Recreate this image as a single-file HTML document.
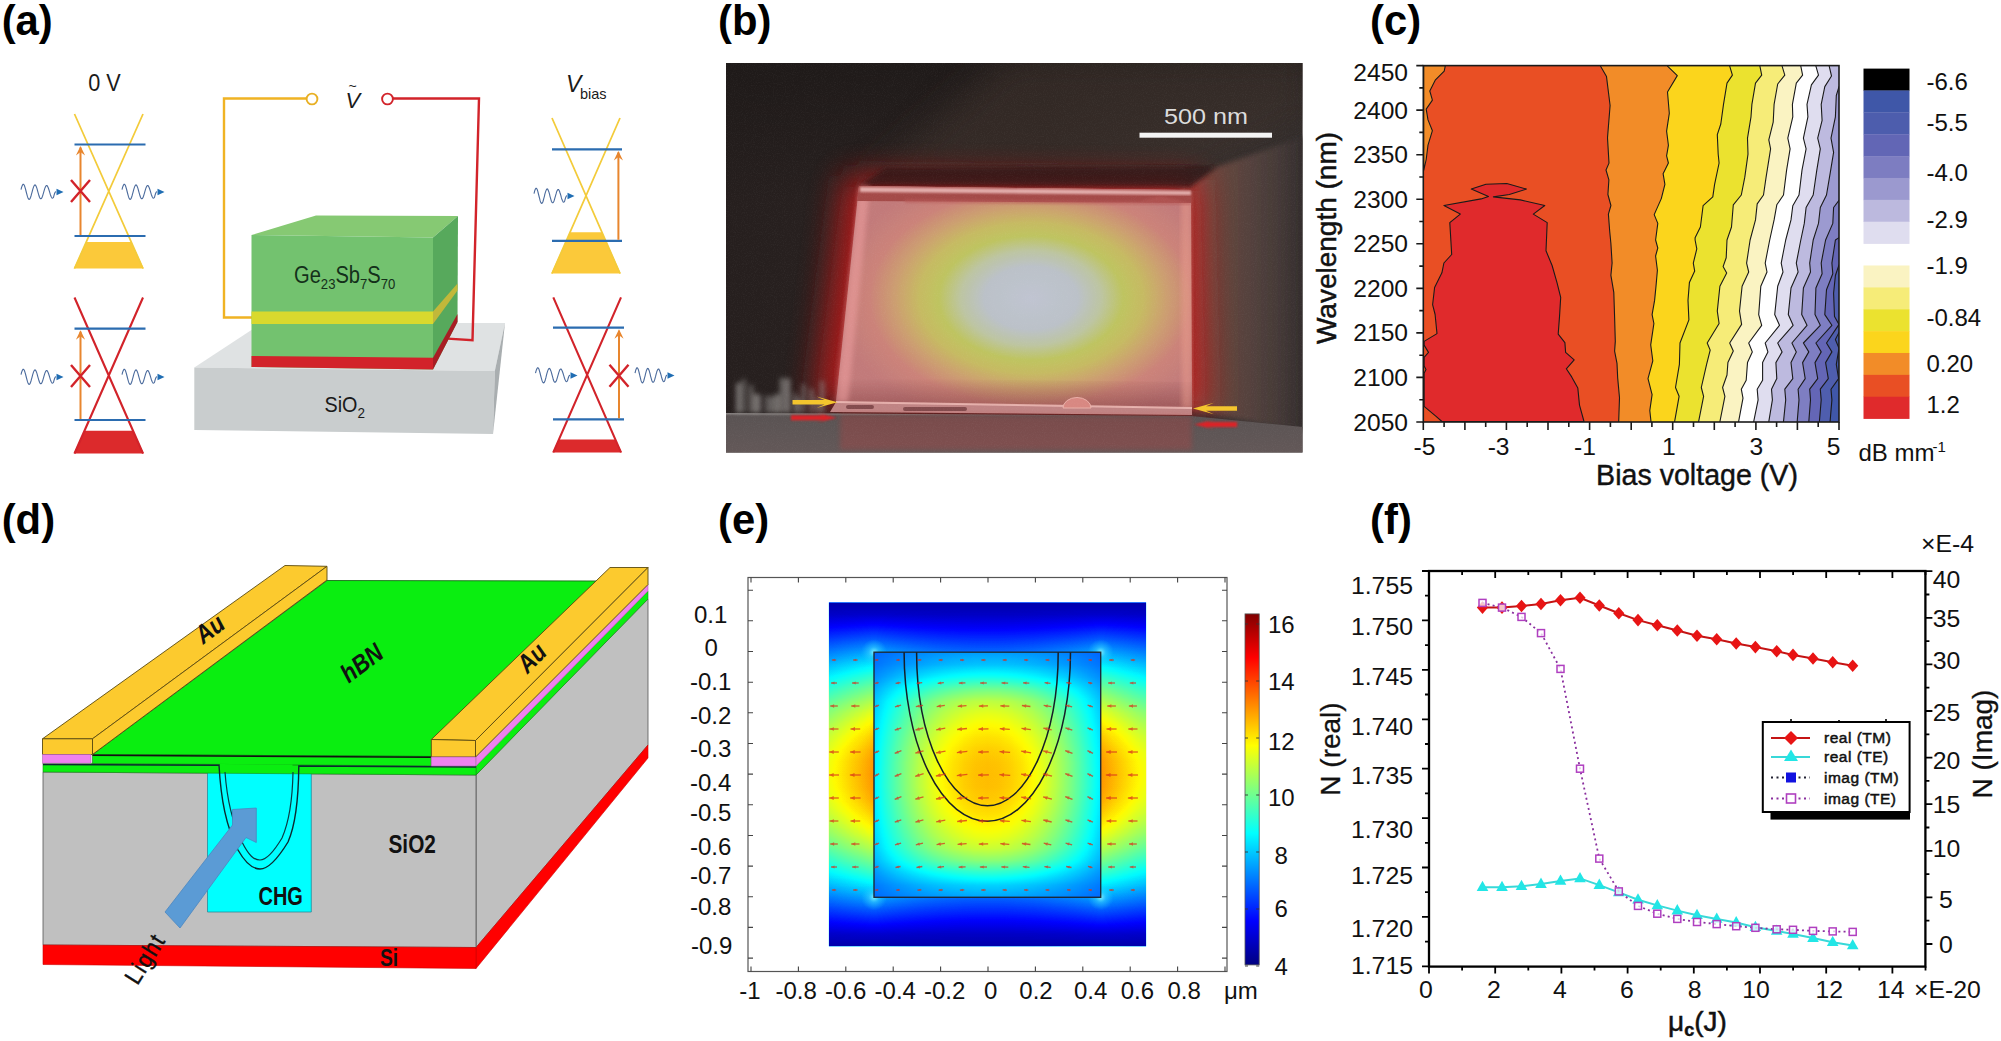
<!DOCTYPE html>
<html lang="en"><head><meta charset="utf-8"><title>Figure</title>
<style>
html,body{margin:0;padding:0;background:#fff;}
body{width:2001px;height:1041px;overflow:hidden;font-family:"Liberation Sans",sans-serif;}
svg{display:block;}
svg text{font-family:"Liberation Sans",sans-serif;}
.lbl{font-weight:700;font-size:41.8px;fill:#000;}
</style></head><body>
<svg width="2001" height="1041" viewBox="0 0 2001 1041">
<rect width="2001" height="1041" fill="#fff"/>
<g class="lbl">
<text x="1.7" y="35.3">(a)</text><text x="718.1" y="35.3">(b)</text><text x="1370.1" y="35.3">(c)</text>
<text x="1.7" y="534.3">(d)</text><text x="718.1" y="534.3">(e)</text><text x="1370.1" y="534.3">(f)</text>
</g>
<!-- panel a -->
<g id="pa"><polygon points="86.2,242.0 131.3,242.0 143.8,268.5 73.7,268.5" fill="#fbc93a"/><path d="M74.5 114.0 L143.0 268.5 M143.0 114.0 L74.5 268.5" stroke="#f3cb3a" stroke-width="1.75" fill="none"/><path d="M74.5 144.5 H145.5 M74.5 236.0 H145.5" stroke="#2b6cb0" stroke-width="2.2" fill="none"/><path d="M80.5 235.0 V147.5" stroke="#e8862e" stroke-width="2" fill="none"/><polygon points="75.9,155.5 80.5,146.0 85.1,155.5 80.5,152.0" fill="#e8862e"/><path d="M71.0 180.0 L90.0 202.0 M90.0 180.0 L71.0 202.0" stroke="#d2232a" stroke-width="2.4" fill="none"/><polyline points="21.0,189.6 21.5,187.7 22.0,186.2 22.5,185.0 23.0,184.4 23.5,184.4 24.0,184.8 24.5,185.8 25.0,187.3 25.5,189.0 26.0,191.0 26.5,193.0 27.0,194.9 27.5,196.7 28.0,198.0 28.5,198.9 29.0,199.4 29.5,199.2 30.0,198.6 30.5,197.5 31.0,196.0 31.5,194.2 32.0,192.3 32.5,190.4 33.0,188.6 33.5,187.1 34.0,185.9 34.5,185.2 35.0,184.9 35.5,185.2 36.0,186.0 36.5,187.2 37.0,188.7 37.5,190.5 38.0,192.3 38.5,194.1 39.0,195.8 39.5,197.2 40.0,198.1 40.5,198.7 41.0,198.7 41.5,198.3 42.0,197.4 42.5,196.2 43.0,194.6 43.5,192.9 44.0,191.1 44.5,189.4 45.0,187.9 45.5,186.7 46.0,185.9 46.5,185.5 47.0,185.6 47.5,186.2 48.0,187.2 48.5,188.5 49.0,190.0 49.5,191.7 50.0,193.4 50.5,195.0 51.0,196.3 51.5,197.3 52.0,198.0 52.5,198.2 53.0,197.9 53.5,197.3 54.0,195.4 54.5,193.8 55.0,192.5 55.5,191.9 56.0,192.0" fill="none" stroke="#4a6a9c" stroke-width="1.1"/><polygon points="56.5,188.8 63.5,192.0 56.5,195.2" fill="#1f6db3"/><polyline points="122.0,189.6 122.5,187.7 123.0,186.2 123.5,185.0 124.0,184.4 124.5,184.4 125.0,184.8 125.5,185.8 126.0,187.3 126.5,189.0 127.0,191.0 127.5,193.0 128.0,194.9 128.5,196.7 129.0,198.0 129.5,198.9 130.0,199.4 130.5,199.2 131.0,198.6 131.5,197.5 132.0,196.0 132.5,194.2 133.0,192.3 133.5,190.4 134.0,188.6 134.5,187.1 135.0,185.9 135.5,185.2 136.0,184.9 136.5,185.2 137.0,186.0 137.5,187.2 138.0,188.7 138.5,190.5 139.0,192.3 139.5,194.1 140.0,195.8 140.5,197.2 141.0,198.1 141.5,198.7 142.0,198.7 142.5,198.3 143.0,197.4 143.5,196.2 144.0,194.6 144.5,192.9 145.0,191.1 145.5,189.4 146.0,187.9 146.5,186.7 147.0,185.9 147.5,185.5 148.0,185.6 148.5,186.2 149.0,187.2 149.5,188.5 150.0,190.0 150.5,191.7 151.0,193.4 151.5,195.0 152.0,196.3 152.5,197.3 153.0,198.0 153.5,198.2 154.0,197.9 154.5,197.3 155.0,195.4 155.5,193.8 156.0,192.5 156.5,191.9 157.0,192.0" fill="none" stroke="#4a6a9c" stroke-width="1.1"/><polygon points="157.5,188.8 164.5,192.0 157.5,195.2" fill="#1f6db3"/><polygon points="84.5,430.7 133.0,430.7 143.8,453.5 73.7,453.5" fill="#dc2a2c"/><path d="M74.5 297.5 L143.0 453.5 M143.0 297.5 L74.5 453.5" stroke="#d2232a" stroke-width="2.1" fill="none"/><path d="M74.5 328.7 H145.5 M74.5 420.0 H145.5" stroke="#2b6cb0" stroke-width="2.2" fill="none"/><path d="M80.5 419.0 V331.7" stroke="#e8862e" stroke-width="2" fill="none"/><polygon points="75.9,339.7 80.5,330.2 85.1,339.7 80.5,336.2" fill="#e8862e"/><path d="M71.0 365.0 L90.0 387.0 M90.0 365.0 L71.0 387.0" stroke="#d2232a" stroke-width="2.4" fill="none"/><polyline points="21.0,374.6 21.5,372.7 22.0,371.2 22.5,370.0 23.0,369.4 23.5,369.4 24.0,369.8 24.5,370.8 25.0,372.3 25.5,374.0 26.0,376.0 26.5,378.0 27.0,379.9 27.5,381.7 28.0,383.0 28.5,383.9 29.0,384.4 29.5,384.2 30.0,383.6 30.5,382.5 31.0,381.0 31.5,379.2 32.0,377.3 32.5,375.4 33.0,373.6 33.5,372.1 34.0,370.9 34.5,370.2 35.0,369.9 35.5,370.2 36.0,371.0 36.5,372.2 37.0,373.7 37.5,375.5 38.0,377.3 38.5,379.1 39.0,380.8 39.5,382.2 40.0,383.1 40.5,383.7 41.0,383.7 41.5,383.3 42.0,382.4 42.5,381.2 43.0,379.6 43.5,377.9 44.0,376.1 44.5,374.4 45.0,372.9 45.5,371.7 46.0,370.9 46.5,370.5 47.0,370.6 47.5,371.2 48.0,372.2 48.5,373.5 49.0,375.0 49.5,376.7 50.0,378.4 50.5,380.0 51.0,381.3 51.5,382.3 52.0,383.0 52.5,383.2 53.0,382.9 53.5,382.3 54.0,380.4 54.5,378.8 55.0,377.5 55.5,376.9 56.0,377.0" fill="none" stroke="#4a6a9c" stroke-width="1.1"/><polygon points="56.5,373.8 63.5,377.0 56.5,380.2" fill="#1f6db3"/><polyline points="122.0,374.6 122.5,372.7 123.0,371.2 123.5,370.0 124.0,369.4 124.5,369.4 125.0,369.8 125.5,370.8 126.0,372.3 126.5,374.0 127.0,376.0 127.5,378.0 128.0,379.9 128.5,381.7 129.0,383.0 129.5,383.9 130.0,384.4 130.5,384.2 131.0,383.6 131.5,382.5 132.0,381.0 132.5,379.2 133.0,377.3 133.5,375.4 134.0,373.6 134.5,372.1 135.0,370.9 135.5,370.2 136.0,369.9 136.5,370.2 137.0,371.0 137.5,372.2 138.0,373.7 138.5,375.5 139.0,377.3 139.5,379.1 140.0,380.8 140.5,382.2 141.0,383.1 141.5,383.7 142.0,383.7 142.5,383.3 143.0,382.4 143.5,381.2 144.0,379.6 144.5,377.9 145.0,376.1 145.5,374.4 146.0,372.9 146.5,371.7 147.0,370.9 147.5,370.5 148.0,370.6 148.5,371.2 149.0,372.2 149.5,373.5 150.0,375.0 150.5,376.7 151.0,378.4 151.5,380.0 152.0,381.3 152.5,382.3 153.0,383.0 153.5,383.2 154.0,382.9 154.5,382.3 155.0,380.4 155.5,378.8 156.0,377.5 156.5,376.9 157.0,377.0" fill="none" stroke="#4a6a9c" stroke-width="1.1"/><polygon points="157.5,373.8 164.5,377.0 157.5,380.2" fill="#1f6db3"/><polygon points="570.0,232.3 602.0,232.3 620.8,273.5 551.2,273.5" fill="#fbc93a"/><path d="M552.0 118.0 L620.0 273.5 M620.0 118.0 L552.0 273.5" stroke="#f3cb3a" stroke-width="1.75" fill="none"/><path d="M552.0 149.4 H622.0 M552.0 240.8 H622.0" stroke="#2b6cb0" stroke-width="2.2" fill="none"/><path d="M618.4 239.8 V152.4" stroke="#e8862e" stroke-width="2" fill="none"/><polygon points="613.8,160.4 618.4,150.9 623.0,160.4 618.4,156.9" fill="#e8862e"/><polyline points="534.0,193.6 534.5,191.7 534.9,190.2 535.4,189.0 535.9,188.4 536.4,188.4 536.8,188.8 537.3,189.8 537.8,191.3 538.2,193.0 538.7,195.0 539.2,197.0 539.7,198.9 540.1,200.7 540.6,202.0 541.1,202.9 541.5,203.4 542.0,203.2 542.5,202.6 543.0,201.5 543.4,200.0 543.9,198.2 544.4,196.3 544.8,194.4 545.3,192.6 545.8,191.1 546.3,189.9 546.7,189.2 547.2,188.9 547.7,189.2 548.1,190.0 548.6,191.2 549.1,192.7 549.6,194.5 550.0,196.3 550.5,198.1 551.0,199.8 551.4,201.2 551.9,202.1 552.4,202.7 552.9,202.7 553.3,202.3 553.8,201.4 554.3,200.2 554.7,198.6 555.2,196.9 555.7,195.1 556.2,193.4 556.6,191.9 557.1,190.7 557.6,189.9 558.0,189.5 558.5,189.6 559.0,190.2 559.5,191.2 559.9,192.5 560.4,194.0 560.9,195.7 561.3,197.4 561.8,199.0 562.3,200.3 562.8,201.3 563.2,202.0 563.7,202.2 564.2,201.9 564.6,201.3 565.1,199.4 565.6,197.8 566.1,196.5 566.5,195.9 567.0,196.0" fill="none" stroke="#4a6a9c" stroke-width="1.1"/><polygon points="567.5,192.8 574.5,196.0 567.5,199.2" fill="#1f6db3"/><polygon points="558.9,439.5 615.4,439.5 621.8,452.4 552.5,452.4" fill="#dc2a2c"/><path d="M553.3 297.4 L621.0 452.4 M621.0 297.4 L553.3 452.4" stroke="#d2232a" stroke-width="2.1" fill="none"/><path d="M553.0 327.7 H624.0 M553.0 419.3 H624.0" stroke="#2b6cb0" stroke-width="2.2" fill="none"/><path d="M619.0 418.3 V330.7" stroke="#e8862e" stroke-width="2" fill="none"/><polygon points="614.4,338.7 619.0,329.2 623.6,338.7 619.0,335.2" fill="#e8862e"/><path d="M609.5 364.7 L628.5 386.7 M628.5 364.7 L609.5 386.7" stroke="#d2232a" stroke-width="2.4" fill="none"/><polyline points="535.5,373.1 536.0,371.2 536.5,369.7 537.0,368.5 537.5,367.9 538.0,367.9 538.5,368.3 539.0,369.3 539.4,370.8 539.9,372.5 540.4,374.5 540.9,376.5 541.4,378.4 541.9,380.2 542.4,381.5 542.9,382.4 543.4,382.9 543.9,382.7 544.4,382.1 544.9,381.0 545.4,379.5 545.9,377.7 546.3,375.8 546.8,373.9 547.3,372.1 547.8,370.6 548.3,369.4 548.8,368.7 549.3,368.4 549.8,368.7 550.3,369.5 550.8,370.7 551.3,372.2 551.8,374.0 552.3,375.8 552.8,377.6 553.2,379.3 553.7,380.7 554.2,381.6 554.7,382.2 555.2,382.2 555.7,381.8 556.2,380.9 556.7,379.7 557.2,378.1 557.7,376.4 558.2,374.6 558.7,372.9 559.2,371.4 559.6,370.2 560.1,369.4 560.6,369.0 561.1,369.1 561.6,369.7 562.1,370.7 562.6,372.0 563.1,373.5 563.6,375.2 564.1,376.9 564.6,378.5 565.1,379.8 565.6,380.8 566.1,381.5 566.5,381.7 567.0,381.4 567.5,380.8 568.0,378.9 568.5,377.3 569.0,376.0 569.5,375.4 570.0,375.5" fill="none" stroke="#4a6a9c" stroke-width="1.1"/><polygon points="570.5,372.3 577.5,375.5 570.5,378.7" fill="#1f6db3"/><polyline points="635.0,373.1 635.5,371.2 635.9,369.7 636.4,368.5 636.8,367.9 637.3,367.9 637.7,368.3 638.2,369.3 638.7,370.8 639.1,372.5 639.6,374.5 640.0,376.5 640.5,378.4 640.9,380.2 641.4,381.5 641.9,382.4 642.3,382.9 642.8,382.7 643.2,382.1 643.7,381.0 644.1,379.5 644.6,377.7 645.1,375.8 645.5,373.9 646.0,372.1 646.4,370.6 646.9,369.4 647.3,368.7 647.8,368.4 648.3,368.7 648.7,369.5 649.2,370.7 649.6,372.2 650.1,374.0 650.5,375.8 651.0,377.6 651.5,379.3 651.9,380.7 652.4,381.6 652.8,382.2 653.3,382.2 653.7,381.8 654.2,380.9 654.7,379.7 655.1,378.1 655.6,376.4 656.0,374.6 656.5,372.9 656.9,371.4 657.4,370.2 657.9,369.4 658.3,369.0 658.8,369.1 659.2,369.7 659.7,370.7 660.1,372.0 660.6,373.5 661.1,375.2 661.5,376.9 662.0,378.5 662.4,379.8 662.9,380.8 663.3,381.5 663.8,381.7 664.3,381.4 664.7,380.8 665.2,378.9 665.6,377.3 666.1,376.0 666.5,375.4 667.0,375.5" fill="none" stroke="#4a6a9c" stroke-width="1.1"/><polygon points="667.5,372.3 674.5,375.5 667.5,378.7" fill="#1f6db3"/><text x="88.3" y="90.5" font-size="23" fill="#1a1a1a" textLength="32.5" lengthAdjust="spacingAndGlyphs">0 V</text><text x="566" y="92" font-size="23" font-style="italic" fill="#1a1a1a">V</text><text x="580" y="98.5" font-size="14.5" fill="#1a1a1a">bias</text><text x="345.5" y="107.8" font-size="22" font-style="italic" fill="#1a1a1a">V</text><text x="348.5" y="90.5" font-size="14" fill="#1a1a1a">~</text><polygon points="194.3,367.5 262,323 505,323 494.8,371" fill="#dfe2e3"/><polygon points="194.3,367.5 494.8,371 493,434 194.3,430" fill="#c9cdce"/><polygon points="494.8,371 505,323 493,434" fill="#a9aeb0"/><path d="M393 98.5 H479 L472.5 340.3 L447.6 338.6" stroke="#d2232a" stroke-width="2.4" fill="none"/><circle cx="387.5" cy="99" r="5.4" fill="#fff" stroke="#d2232a" stroke-width="1.9"/><path d="M306 98.5 H224 V317.5 H252" stroke="#f0b323" stroke-width="2.4" fill="none"/><circle cx="312" cy="99" r="5.4" fill="#fff" stroke="#e8b024" stroke-width="1.9"/><polygon points="251.5,235 316,215.5 458,216 433,237.5" fill="#86c973"/><polygon points="251.5,235 433,237.5 433,369.5 251.5,367" fill="#73c26f"/><polygon points="433,237.5 458,216 457.5,322 433,369.5" fill="#57a95c"/><polygon points="251.5,311.5 433,311.5 433,324 251.5,324" fill="#d9d92e"/><polygon points="433,311.5 457.5,283.5 457.5,290.5 433,324" fill="#c2b83a"/><polygon points="251.5,356 433,357.8 433,369.5 251.5,367" fill="#d2232a"/><polygon points="433,357.8 457.5,314 457.5,322 433,369.5" fill="#a81d24"/><text transform="translate(294 282.5) scale(0.875 1)" font-size="23" fill="#14301a">Ge<tspan font-size="15" dy="6">23</tspan><tspan dy="-6">Sb</tspan><tspan font-size="15" dy="6">7</tspan><tspan dy="-6">S</tspan><tspan font-size="15" dy="6">70</tspan></text><text transform="translate(324.5 412) scale(0.9 1)" font-size="22" fill="#1a1a1a">SiO<tspan font-size="15" dy="6">2</tspan></text></g>
<!-- panel b -->
<g id="pb"><defs>
<clipPath id="bclip"><rect x="726" y="63" width="576.5" height="389.5"/></clipPath>
<linearGradient id="bbg" x1="0" y1="0" x2="1" y2="0"><stop offset="0" stop-color="#261f1e"/><stop offset="0.55" stop-color="#2b2322"/><stop offset="1" stop-color="#3d3837"/></linearGradient>
<linearGradient id="bbgv" x1="0" y1="0" x2="0" y2="1"><stop offset="0" stop-color="#1c1817" stop-opacity="0.75"/><stop offset="0.35" stop-color="#1c1817" stop-opacity="0"/></linearGradient>
<linearGradient id="bsub" x1="0" y1="0" x2="0" y2="1"><stop offset="0" stop-color="#8e8988"/><stop offset="0.07" stop-color="#5a5353"/><stop offset="1" stop-color="#635858"/></linearGradient>
<linearGradient id="bside" x1="0" y1="0" x2="1" y2="0"><stop offset="0" stop-color="#8a4a42"/><stop offset="0.15" stop-color="#6e463e"/><stop offset="0.45" stop-color="#57433e"/><stop offset="0.75" stop-color="#443937"/><stop offset="1" stop-color="#2e2929"/></linearGradient>
<radialGradient id="bglow" cx="1031" cy="298" r="1" gradientUnits="userSpaceOnUse" gradientTransform="translate(1031 298) scale(196 132) translate(-1031 -298)">
<stop offset="0" stop-color="#c2c8d6"/><stop offset="0.24" stop-color="#bcc4cc"/><stop offset="0.36" stop-color="#bfc9a0"/><stop offset="0.47" stop-color="#c0c856"/><stop offset="0.57" stop-color="#c9bd58"/><stop offset="0.69" stop-color="#d09e68"/><stop offset="0.82" stop-color="#cf7e72"/><stop offset="1" stop-color="#c47474"/></radialGradient>
<filter id="bblur20" x="-30%" y="-30%" width="160%" height="160%"><feGaussianBlur stdDeviation="16"/></filter>
<filter id="bblur3" x="-10%" y="-10%" width="120%" height="120%"><feGaussianBlur stdDeviation="2.5"/></filter>
<filter id="bblur1"><feGaussianBlur stdDeviation="0.8"/></filter>
<filter id="bnoise" x="0" y="0" width="100%" height="100%"><feTurbulence type="fractalNoise" baseFrequency="0.9" numOctaves="2" seed="3"/><feColorMatrix type="matrix" values="0 0 0 0 1  0 0 0 0 1  0 0 0 0 1  0.9 0 0 0 -0.38"/></filter>
<linearGradient id="bbot" gradientUnits="userSpaceOnUse" x1="0" y1="378" x2="0" y2="404"><stop offset="0" stop-color="#6a2024" stop-opacity="0"/><stop offset="1" stop-color="#6a2024" stop-opacity="0.38"/></linearGradient>
</defs><g clip-path="url(#bclip)"><rect x="726" y="63" width="577" height="390" fill="url(#bbg)"/><rect x="726" y="63" width="577" height="390" fill="url(#bbgv)"/><polygon points="862,184 1191,184 1310,118 1310,55 1010,55" fill="#42352f" opacity="0.5" filter="url(#bblur20)"/><polygon points="1191,186 1217,167 1310,134 1310,432 1191,410" fill="url(#bside)" filter="url(#bblur3)"/><polygon points="844,176 1200,180 1206,412 814,406" fill="#b81a1c" opacity="0.9" filter="url(#bblur20)"/><polygon points="726,413 836,413.5 1191,416 1303,427 1303,453 726,453" fill="url(#bsub)"/><polygon points="859,186 885,168 1215,166 1191,186" fill="#2a1416" opacity="0.7" filter="url(#bblur3)"/><polygon points="859,186 1191,190 1192,408 836,402" fill="url(#bglow)"/><polygon points="838,378 1192,382 1192,408 836,402" fill="url(#bbot)"/><polygon points="859,186 1191,190 1192,408 836,402" fill="#b4acac" opacity="0.12"/><polygon points="859,186 870,186 848,402 836,402" fill="#f0a0a0" opacity="0.55" filter="url(#bblur3)"/><polygon points="1181,190 1191,190 1192,408 1182,408" fill="#f0a090" opacity="0.45" filter="url(#bblur3)"/><polygon points="859,186 1191,190 1191,203 857,201" fill="#a44a48"/><polygon points="860,187 1191,191 1191,195 860,192" fill="#f3c6c4" opacity="0.8" filter="url(#bblur1)"/><polygon points="905,199 1140,201 1160,196 1191,203 1191,205 905,203" fill="#b85a58" opacity="0.55" filter="url(#bblur1)"/><polygon points="836,402 1192,408 1192,415 830,412" fill="#c08484"/><polygon points="836,401 1192,407 1192,409 836,403" fill="#f2c0bc" opacity="0.8"/><path d="M848 407 H872 M905 409 H965" stroke="#6a3436" stroke-width="4" opacity="0.7" stroke-linecap="round"/><path d="M1063 408 A14 10.5 0 0 1 1091 408 Z" fill="#d88882" stroke="#eab0a8" stroke-width="1"/><polygon points="840,414 1192,416 1192,450 840,450" fill="#c83a3a" opacity="0.28" filter="url(#bblur3)"/><g filter="url(#bblur3)"><rect x="736.4" y="382.7" width="4.6" height="30.3" rx="1.5" fill="#8f8b89" opacity="0.87"/><rect x="742.3" y="378.7" width="3.1" height="34.3" rx="1.5" fill="#8f8b89" opacity="0.66"/><rect x="748.5" y="384.7" width="4.8" height="28.3" rx="1.5" fill="#8f8b89" opacity="0.50"/><rect x="752.7" y="393.6" width="4.1" height="19.4" rx="1.5" fill="#8f8b89" opacity="0.71"/><rect x="756.9" y="394.2" width="3.6" height="18.8" rx="1.5" fill="#8f8b89" opacity="0.86"/><rect x="764.8" y="395.5" width="4.6" height="17.5" rx="1.5" fill="#8f8b89" opacity="0.51"/><rect x="770.0" y="396.2" width="3.0" height="16.8" rx="1.5" fill="#8f8b89" opacity="0.84"/><rect x="774.3" y="394.3" width="5.0" height="18.7" rx="1.5" fill="#8f8b89" opacity="0.84"/><rect x="780.2" y="377.8" width="4.1" height="35.2" rx="1.5" fill="#8f8b89" opacity="0.76"/><rect x="785.5" y="378.3" width="4.4" height="34.7" rx="1.5" fill="#8f8b89" opacity="0.88"/><rect x="793.2" y="392.4" width="3.7" height="20.6" rx="1.5" fill="#8f8b89" opacity="0.52"/><rect x="796.5" y="397.6" width="3.6" height="15.4" rx="1.5" fill="#8f8b89" opacity="0.72"/><rect x="801.7" y="384.1" width="3.7" height="28.9" rx="1.5" fill="#8f8b89" opacity="0.59"/><rect x="809.8" y="388.4" width="3.6" height="24.6" rx="1.5" fill="#8f8b89" opacity="0.67"/><rect x="815.0" y="397.7" width="5.0" height="15.3" rx="1.5" fill="#8f8b89" opacity="0.46"/><rect x="820.7" y="380.4" width="3.0" height="32.6" rx="1.5" fill="#8f8b89" opacity="0.80"/></g><rect x="726" y="63" width="577" height="390" filter="url(#bnoise)" opacity="0.10"/><rect x="1139.5" y="132.7" width="132.5" height="5" fill="#f4f4f4"/><text x="1206" y="123.5" font-size="22" fill="#dcdcdc" text-anchor="middle" textLength="84" lengthAdjust="spacingAndGlyphs">500 nm</text><polygon points="792.5,399.9 824.5,399.9 816.5,396.4 837.5,402.2 816.5,408.0 824.5,404.5 792.5,404.5" fill="#f4c52e"/><polygon points="791.0,415.2 824.0,415.2 816.0,412.7 837.0,417.7 816.0,422.7 824.0,420.2 791.0,420.2" fill="#dc2228" filter="url(#bblur1)"/><polygon points="1237.0,406.2 1206.0,406.2 1214.0,402.7 1193.0,408.5 1214.0,414.3 1206.0,410.8 1237.0,410.8" fill="#f4c52e"/><polygon points="1237.0,422.0 1207.0,422.0 1215.0,419.5 1194.0,424.5 1215.0,429.5 1207.0,427.0 1237.0,427.0" fill="#dc2228" filter="url(#bblur1)"/></g></g>
<!-- panel c -->
<g id="pc"><clipPath id="cclip"><rect x="1423.3" y="65.6" width="415.7" height="356.4"/></clipPath><g clip-path="url(#cclip)" stroke-linejoin="round"><rect x="1423.3" y="65.6" width="415.7" height="356.4" fill="#e94f24"/><polygon points="1423.7,65.8 1445.3,65.8 1444.2,71.2 1435.2,80.2 1429.8,91.0 1432.4,100.1 1426.2,109.1 1428.0,119.9 1432.4,130.7 1428.0,145.1 1426.2,159.5 1423.7,170.4" fill="#f28c28" stroke="#1a1a1a" stroke-width="1.1"/><polygon points="1424.1,341.4 1437.0,333.6 1435.1,314.5 1432.6,304.7 1434.6,287.5 1441.9,272.8 1443.9,263.0 1451.7,254.5 1449.8,222.6 1460.3,214.1 1443.9,205.5 1481.1,198.9 1488.5,196.4 1471.3,189.1 1486.0,184.2 1506.8,183.5 1526.4,189.1 1509.3,194.5 1493.4,196.9 1520.3,199.9 1544.8,205.5 1533.3,214.1 1547.2,222.6 1546.0,250.8 1552.1,265.5 1557.0,282.6 1560.7,297.3 1559.5,316.9 1558.2,334.1 1564.9,342.6 1565.6,352.4 1574.2,359.8 1566.3,368.8 1571.7,376.9 1577.8,387.9 1579.5,405.1 1584.0,421.5 1441.9,421.5 1435.8,416.1 1424.1,406.3 1424.1,373.2 1426.0,369.6 1424.1,365.9 1424.1,357.3 1428.5,352.4 1424.1,345.1" fill="#e02a2c" stroke="#1a1a1a" stroke-width="1.1"/><polygon points="1600.3,65.8 1606.5,76.6 1610.1,105.5 1607.5,137.9 1609.0,163.1 1606.0,170.0 1608.9,179.8 1607.9,194.5 1610.9,205.5 1608.4,214.1 1609.7,231.2 1610.9,243.5 1612.1,263.0 1610.9,275.3 1613.8,292.4 1614.6,316.9 1615.3,341.4 1614.6,351.2 1617.0,363.4 1617.7,378.1 1619.5,397.7 1618.7,421.5 1618.7,425.0 1842.0,425.0 1842.0,62.6 1600.3,62.6" fill="#f28c28" stroke="#1a1a1a" stroke-width="1.1"/><polygon points="1667.5,66.2 1677.3,75.6 1667.5,92.0 1669.3,113.3 1666.6,131.1 1668.4,145.3 1666.6,155.9 1668.4,163.0 1663.1,173.7 1664.9,184.4 1661.3,198.6 1654.2,214.6 1657.8,223.4 1655.6,240.0 1657.8,248.0 1655.6,256.0 1657.4,270.2 1656.0,286.2 1654.6,300.4 1652.1,314.6 1653.9,323.5 1650.7,344.8 1652.8,360.8 1648.0,378.6 1652.1,394.6 1649.8,410.5 1651.0,421.6 1651.0,425.0 1842.0,425.0 1842.0,62.6 1667.5,62.6" fill="#fbd51c" stroke="#1a1a1a" stroke-width="1.1"/><polygon points="1729.7,66.2 1732.4,75.1 1727.0,83.1 1723.5,104.4 1720.8,124.0 1717.3,134.6 1718.2,154.2 1719.1,163.0 1714.6,184.4 1712.8,196.8 1703.1,205.7 1700.4,227.0 1695.1,237.7 1695.1,240.0 1696.8,248.9 1693.3,263.1 1694.7,271.1 1689.4,282.6 1688.0,300.4 1688.9,319.9 1680.0,343.0 1679.4,364.4 1675.5,387.5 1679.1,396.3 1674.6,421.6 1674.6,425.0 1842.0,425.0 1842.0,62.6 1729.7,62.6" fill="#ebe22f" stroke="#1a1a1a" stroke-width="1.1"/><polygon points="1759.9,66.2 1761.7,75.1 1755.5,83.1 1751.9,104.4 1751.0,116.8 1747.5,138.2 1748.0,154.2 1744.8,177.2 1741.3,195.0 1733.3,204.8 1731.5,227.0 1727.0,240.0 1726.2,257.8 1723.1,266.6 1726.7,272.9 1719.9,286.2 1717.3,311.1 1719.1,323.5 1707.2,343.0 1710.2,350.1 1706.6,364.4 1701.3,387.5 1703.6,396.3 1698.6,421.6 1698.6,425.0 1842.0,425.0 1842.0,62.6 1759.9,62.6" fill="#f6ec78" stroke="#1a1a1a" stroke-width="1.1"/><polygon points="1782.1,66.2 1784.8,75.1 1777.7,84.0 1774.1,104.4 1773.2,122.2 1768.8,139.9 1770.6,148.8 1766.1,177.2 1763.5,195.0 1757.2,203.9 1755.5,219.9 1750.1,240.0 1746.6,263.1 1748.7,272.0 1742.1,286.2 1739.5,311.1 1741.6,324.4 1729.7,343.0 1733.3,351.0 1727.9,362.6 1727.0,375.0 1722.6,387.5 1724.9,396.3 1719.9,421.6 1719.9,425.0 1842.0,425.0 1842.0,62.6 1782.1,62.6" fill="#faf3c2" stroke="#1a1a1a" stroke-width="1.1"/><polygon points="1800.8,66.2 1802.6,75.1 1796.3,83.1 1792.4,104.4 1792.8,116.8 1787.8,138.2 1790.1,148.8 1786.6,170.1 1783.5,195.0 1776.8,204.8 1774.1,219.9 1769.7,240.0 1765.2,263.1 1767.0,272.0 1760.8,286.2 1758.7,314.6 1761.7,325.3 1748.7,343.0 1752.3,351.9 1747.5,362.6 1746.2,380.3 1741.3,389.2 1743.0,398.1 1738.6,421.6 1738.6,425.0 1842.0,425.0 1842.0,62.6 1800.8,62.6" fill="#ffffff" stroke="#1a1a1a" stroke-width="1.1"/><polygon points="1815.9,66.2 1818.5,75.1 1811.4,84.9 1807.0,104.4 1807.9,116.8 1803.4,138.2 1806.1,148.8 1802.0,170.1 1799.0,195.0 1792.8,205.7 1791.0,219.9 1785.7,240.0 1781.2,263.1 1783.0,272.0 1777.7,286.2 1774.7,314.6 1779.5,325.3 1765.2,343.0 1767.9,351.9 1762.6,362.6 1762.6,380.3 1757.2,389.2 1758.1,399.9 1753.7,421.6 1753.7,425.0 1842.0,425.0 1842.0,62.6 1815.9,62.6" fill="#dfddef" stroke="#1a1a1a" stroke-width="1.1"/><polygon points="1829.2,66.2 1831.5,76.0 1824.8,86.6 1821.2,104.4 1822.1,120.4 1817.7,138.2 1820.3,148.8 1816.8,170.1 1813.2,195.0 1806.1,207.5 1804.3,223.4 1800.8,240.0 1796.3,263.1 1798.1,272.0 1791.0,288.0 1788.3,314.6 1793.1,325.3 1777.7,343.0 1782.1,351.9 1775.9,362.6 1776.8,378.6 1771.5,389.2 1772.4,399.9 1768.8,421.6 1768.8,425.0 1842.0,425.0 1842.0,62.6 1829.2,62.6" fill="#bdbadf" stroke="#1a1a1a" stroke-width="1.1"/><polygon points="1839.0,86.6 1836.3,95.5 1835.4,116.8 1831.0,138.2 1833.6,152.4 1830.1,173.7 1826.5,195.0 1820.3,207.5 1818.5,223.4 1813.2,240.0 1809.7,263.1 1810.5,272.0 1803.4,288.0 1801.7,314.6 1807.0,325.3 1791.9,343.0 1796.3,351.9 1791.0,362.6 1792.8,378.6 1784.8,389.2 1785.7,399.9 1783.5,421.6 1783.5,425.0 1842.0,425.0 1842.0,86.6" fill="#9c9ad0" stroke="#1a1a1a" stroke-width="1.1"/><polygon points="1839.0,200.3 1833.6,207.5 1832.8,223.4 1825.6,240.0 1821.2,263.1 1822.1,273.8 1815.9,288.0 1815.0,314.6 1820.3,325.3 1803.4,343.0 1808.8,351.9 1802.6,362.6 1805.2,378.6 1798.1,389.2 1799.0,399.9 1797.2,421.6 1797.2,425.0 1842.0,425.0 1842.0,200.3" fill="#7e7ec2" stroke="#1a1a1a" stroke-width="1.1"/><polygon points="1839.0,237.7 1835.4,240.0 1831.9,263.1 1832.8,273.8 1826.5,289.7 1824.8,314.6 1831.9,325.3 1815.9,343.0 1821.2,351.9 1815.0,362.6 1817.7,378.6 1809.7,389.2 1810.5,399.9 1808.8,421.6 1808.8,425.0 1842.0,425.0 1842.0,237.7" fill="#6466b6" stroke="#1a1a1a" stroke-width="1.1"/><polygon points="1839.0,264.9 1835.4,275.5 1833.6,293.3 1834.5,316.4 1839.0,324.4 1826.5,343.0 1831.9,351.9 1825.6,362.6 1828.3,378.6 1820.3,389.2 1821.2,399.9 1819.4,421.6 1819.4,425.0 1842.0,425.0 1842.0,264.9" fill="#4f5eae" stroke="#1a1a1a" stroke-width="1.1"/><polygon points="1839.0,332.4 1835.4,339.5 1839.0,348.4 1836.3,364.4 1838.6,378.6 1831.0,389.2 1831.9,399.9 1830.1,421.6 1830.1,425.0 1842.0,425.0 1842.0,332.4" fill="#4057a9" stroke="#1a1a1a" stroke-width="1.1"/></g><rect x="1423.3" y="65.6" width="415.7" height="356.4" fill="none" stroke="#1a1a1a" stroke-width="1.6"/><path d="M1423.3 65.6 h-7 M1423.3 87.9 h-4 M1423.3 110.1 h-7 M1423.3 132.4 h-4 M1423.3 154.7 h-7 M1423.3 177.0 h-4 M1423.3 199.2 h-7 M1423.3 221.5 h-4 M1423.3 243.8 h-7 M1423.3 266.1 h-4 M1423.3 288.4 h-7 M1423.3 310.6 h-4 M1423.3 332.9 h-7 M1423.3 355.2 h-4 M1423.3 377.4 h-7 M1423.3 399.7 h-4 M1423.3 422.0 h-7 M1423.3 422.0 v8 M1444.1 422.0 v5 M1464.9 422.0 v8 M1485.7 422.0 v5 M1506.4 422.0 v8 M1527.2 422.0 v5 M1548.0 422.0 v8 M1568.8 422.0 v5 M1589.6 422.0 v8 M1610.4 422.0 v5 M1631.2 422.0 v8 M1651.9 422.0 v5 M1672.7 422.0 v8 M1693.5 422.0 v5 M1714.3 422.0 v8 M1735.1 422.0 v5 M1755.9 422.0 v8 M1776.6 422.0 v5 M1797.4 422.0 v8 M1818.2 422.0 v5 M1839.0 422.0 v8 " stroke="#1a1a1a" stroke-width="1.6" fill="none"/><g font-size="24.6" fill="#111"><text x="1408" y="81.1" text-anchor="end">2450</text><text x="1408" y="118.6" text-anchor="end">2400</text><text x="1408" y="163.2" text-anchor="end">2350</text><text x="1408" y="207.7" text-anchor="end">2300</text><text x="1408" y="252.3" text-anchor="end">2250</text><text x="1408" y="296.9" text-anchor="end">2200</text><text x="1408" y="341.4" text-anchor="end">2150</text><text x="1408" y="385.9" text-anchor="end">2100</text><text x="1408" y="430.5" text-anchor="end">2050</text><text x="1424.4" y="455" text-anchor="middle">-5</text><text x="1498.6" y="455" text-anchor="middle">-3</text><text x="1585.0" y="455" text-anchor="middle">-1</text><text x="1668.8" y="455" text-anchor="middle">1</text><text x="1756.3" y="455" text-anchor="middle">3</text><text x="1833.5" y="455" text-anchor="middle">5</text></g><text transform="translate(1335.5 238) rotate(-90)" text-anchor="middle" font-size="28" fill="#111" stroke="#111" stroke-width="0.5">Wavelength (nm)</text><text x="1697" y="485.3" text-anchor="middle" font-size="28.6" fill="#111" stroke="#111" stroke-width="0.4">Bias voltage (V)</text><rect x="1863.5" y="68.60" width="46" height="22.18" fill="#000000"/><rect x="1863.5" y="90.47" width="46" height="22.18" fill="#3f57a8"/><rect x="1863.5" y="112.35" width="46" height="22.18" fill="#4d5dad"/><rect x="1863.5" y="134.22" width="46" height="22.18" fill="#6266b5"/><rect x="1863.5" y="156.10" width="46" height="22.18" fill="#7d7dc1"/><rect x="1863.5" y="177.97" width="46" height="22.18" fill="#9b99cf"/><rect x="1863.5" y="199.85" width="46" height="22.18" fill="#bcb9de"/><rect x="1863.5" y="221.72" width="46" height="22.18" fill="#dfddef"/><rect x="1863.5" y="265.48" width="46" height="22.18" fill="#faf3c2"/><rect x="1863.5" y="287.35" width="46" height="22.18" fill="#f6ec78"/><rect x="1863.5" y="309.23" width="46" height="22.18" fill="#ebe22f"/><rect x="1863.5" y="331.10" width="46" height="22.18" fill="#fbd51c"/><rect x="1863.5" y="352.98" width="46" height="22.18" fill="#f28c28"/><rect x="1863.5" y="374.85" width="46" height="22.18" fill="#e94f24"/><rect x="1863.5" y="396.73" width="46" height="22.18" fill="#e02a2c"/><g font-size="24" fill="#111"><text x="1926.5" y="89.5">-6.6</text><text x="1926.5" y="130.5">-5.5</text><text x="1926.5" y="180.5">-4.0</text><text x="1926.5" y="227.5">-2.9</text><text x="1926.5" y="274.0">-1.9</text><text x="1926.5" y="326.0">-0.84</text><text x="1926.5" y="372.2">0.20</text><text x="1926.5" y="412.5">1.2</text><text x="1858.5" y="460.5">dB mm<tspan font-size="15" dy="-9" dx="-2">-1</tspan></text></g></g>
<!-- panel d -->
<g id="pd"><polygon points="476.0,775.0 648.0,599.0 648.0,745.0 476.0,947.5" fill="#c0c0c0" stroke="#555" stroke-width="0.8" stroke-linejoin="round"/><polygon points="476.0,947.5 648.0,745.0 648.0,758.0 476.0,968.5" fill="#ff0000" stroke="#c00" stroke-width="0.6" stroke-linejoin="round"/><polygon points="476.0,766.0 648.0,591.0 648.0,599.0 476.0,775.0" fill="#0aee10" stroke="#1a8a1a" stroke-width="0.6" stroke-linejoin="round"/><polygon points="476.0,757.0 648.0,584.5 648.0,591.0 476.0,766.0" fill="#ee82ee" stroke="#b060b0" stroke-width="0.6" stroke-linejoin="round"/><polygon points="43.0,772.0 476.0,775.0 476.0,947.5 43.0,945.0" fill="#c0c0c0" stroke="#555" stroke-width="0.8" stroke-linejoin="round"/><polygon points="43.0,945.0 476.0,947.5 476.0,968.5 43.0,964.5" fill="#ff0000" stroke="#c00" stroke-width="0.6" stroke-linejoin="round"/><polygon points="207.5,772.0 311.3,772.0 311.3,912.0 207.5,912.0" fill="#00ffff" stroke="#2a8a9a" stroke-width="0.8" stroke-linejoin="round"/><polygon points="43.0,763.0 476.0,766.0 476.0,775.0 43.0,772.0" fill="#0aee10" stroke="#1a8a1a" stroke-width="0.6" stroke-linejoin="round"/><polygon points="92.5,754.5 327.0,580.5 596.0,581.0 431.3,756.5" fill="#0aee10" stroke="#1a6a1a" stroke-width="0.9" stroke-linejoin="round"/><polygon points="92.5,754.5 431.3,756.5 431.3,766.0 92.5,763.5" fill="#0aee10" stroke="#1a6a1a" stroke-width="0.6" stroke-linejoin="round"/><polygon points="220.0,764.0 292.5,764.5 292.5,772.5 220.0,772.5" fill="#0aee10" stroke="none" stroke-width="0" stroke-linejoin="round"/><path d="M43 764.5 L219 765.2 C221 800 226 826 238 850 C246 864 253 869 260 869 C268 869 277 860 288 842 C296 824 298.5 800 298.8 766 L476 767" fill="none" stroke="#0c2a30" stroke-width="1.4"/><path d="M225 772 C227 800 232 822 242 842 C249 856 254 860 260 860 C266 860 273 853 282 838 C289 822 292.5 800 293 772" fill="none" stroke="#0c3a44" stroke-width="1.2"/><path d="M92.5 755.3 L431.3 757.3" stroke="#111" stroke-width="1.4"/><polygon points="42.5,738.8 92.5,738.8 327.0,566.3 285.0,565.5" fill="#fcca2e" stroke="#5a4a10" stroke-width="0.9" stroke-linejoin="round"/><polygon points="92.5,738.8 327.0,566.3 327.0,580.0 92.5,754.5" fill="#fcca2e" stroke="#5a4a10" stroke-width="0.9" stroke-linejoin="round"/><polygon points="42.5,738.8 92.5,738.8 92.5,754.5 42.5,754.5" fill="#fcca2e" stroke="#5a4a10" stroke-width="0.9" stroke-linejoin="round"/><polygon points="42.5,754.5 91.0,754.5 91.0,763.3 42.5,763.3" fill="#ee82ee" stroke="#b060b0" stroke-width="0.6" stroke-linejoin="round"/><polygon points="431.3,739.5 475.5,740.5 648.0,567.5 610.0,567.5" fill="#fcca2e" stroke="#5a4a10" stroke-width="0.9" stroke-linejoin="round"/><polygon points="475.5,740.5 648.0,567.5 648.0,584.5 475.5,757.0" fill="#fcca2e" stroke="#5a4a10" stroke-width="0.9" stroke-linejoin="round"/><polygon points="431.3,739.5 475.5,740.5 475.5,757.0 431.3,757.0" fill="#fcca2e" stroke="#5a4a10" stroke-width="0.9" stroke-linejoin="round"/><polygon points="431.3,757.0 475.5,757.0 475.5,766.0 431.3,766.0" fill="#ee82ee" stroke="#b060b0" stroke-width="0.6" stroke-linejoin="round"/><polygon points="165.0,912.0 180.0,928.0 246.0,837.5 256.3,842.5 256.3,808.0 232.5,809.5 232.5,825.0" fill="#5b9bd5" stroke="#4a86c0" stroke-width="0.8" stroke-linejoin="round"/><g font-weight="700" fill="#111"><text transform="translate(215 636) rotate(-37) scale(0.85 1)" text-anchor="middle" font-size="26" font-style="italic">Au</text><text transform="translate(538 664) rotate(-45) scale(0.85 1)" text-anchor="middle" font-size="26" font-style="italic">Au</text><text transform="translate(367 670) rotate(-37) scale(0.85 1)" text-anchor="middle" font-size="26" font-style="italic">hBN</text><text transform="translate(258.5 904.5) scale(0.8 1)" font-size="25">CHG</text><text transform="translate(388.5 852.5) scale(0.8 1)" font-size="26">SiO2</text><text transform="translate(380 966) scale(0.8 1)" font-size="24">Si</text></g><text transform="translate(137.5 986) rotate(-58) scale(0.9 1)" font-size="24" fill="#111" stroke="#111" stroke-width="0.4" letter-spacing="1.7">Light</text></g>
<!-- panel e -->
<g id="pe"><defs><linearGradient id="e_ox" gradientUnits="userSpaceOnUse" x1="828.9" y1="0" x2="1146.1" y2="0"><stop offset="0.0000" stop-color="#d4d4d4"/><stop offset="0.0357" stop-color="#dfdfdf"/><stop offset="0.0714" stop-color="#eaeaea"/><stop offset="0.1071" stop-color="#f4f4f4"/><stop offset="0.1429" stop-color="#ffffff"/><stop offset="0.1786" stop-color="#f2f2f2"/><stop offset="0.2143" stop-color="#e7e7e7"/><stop offset="0.2500" stop-color="#dddddd"/><stop offset="0.2857" stop-color="#d4d4d4"/><stop offset="0.3214" stop-color="#cdcdcd"/><stop offset="0.3571" stop-color="#c7c7c7"/><stop offset="0.3929" stop-color="#c3c3c3"/><stop offset="0.4286" stop-color="#bfbfbf"/><stop offset="0.4643" stop-color="#bdbdbd"/><stop offset="0.5000" stop-color="#bdbdbd"/><stop offset="0.5357" stop-color="#bdbdbd"/><stop offset="0.5714" stop-color="#bfbfbf"/><stop offset="0.6071" stop-color="#c3c3c3"/><stop offset="0.6429" stop-color="#c7c7c7"/><stop offset="0.6786" stop-color="#cdcdcd"/><stop offset="0.7143" stop-color="#d5d5d5"/><stop offset="0.7500" stop-color="#dddddd"/><stop offset="0.7857" stop-color="#e7e7e7"/><stop offset="0.8214" stop-color="#f3f3f3"/><stop offset="0.8571" stop-color="#ffffff"/><stop offset="0.8929" stop-color="#f4f4f4"/><stop offset="0.9286" stop-color="#e9e9e9"/><stop offset="0.9643" stop-color="#dedede"/><stop offset="1.0000" stop-color="#d4d4d4"/></linearGradient><linearGradient id="e_oy" gradientUnits="userSpaceOnUse" x1="0" y1="602.4" x2="0" y2="946.3"><stop offset="0.0000" stop-color="#000000"/><stop offset="0.0357" stop-color="#0c0c0c"/><stop offset="0.0714" stop-color="#242424"/><stop offset="0.1071" stop-color="#3f3f3f"/><stop offset="0.1429" stop-color="#5a5a5a"/><stop offset="0.1786" stop-color="#747474"/><stop offset="0.2143" stop-color="#8e8e8e"/><stop offset="0.2500" stop-color="#a6a6a6"/><stop offset="0.2857" stop-color="#bcbcbc"/><stop offset="0.3214" stop-color="#d0d0d0"/><stop offset="0.3571" stop-color="#e0e0e0"/><stop offset="0.3929" stop-color="#ededed"/><stop offset="0.4286" stop-color="#f7f7f7"/><stop offset="0.4643" stop-color="#fdfdfd"/><stop offset="0.5000" stop-color="#ffffff"/><stop offset="0.5357" stop-color="#fdfdfd"/><stop offset="0.5714" stop-color="#f8f8f8"/><stop offset="0.6071" stop-color="#eeeeee"/><stop offset="0.6429" stop-color="#e1e1e1"/><stop offset="0.6786" stop-color="#d1d1d1"/><stop offset="0.7143" stop-color="#bebebe"/><stop offset="0.7500" stop-color="#a8a8a8"/><stop offset="0.7857" stop-color="#909090"/><stop offset="0.8214" stop-color="#767676"/><stop offset="0.8571" stop-color="#5b5b5b"/><stop offset="0.8929" stop-color="#404040"/><stop offset="0.9286" stop-color="#262626"/><stop offset="0.9643" stop-color="#0d0d0d"/><stop offset="1.0000" stop-color="#000000"/></linearGradient><linearGradient id="e_ix" gradientUnits="userSpaceOnUse" x1="874.0" y1="0" x2="1100.7" y2="0"><stop offset="0.0000" stop-color="#525252"/><stop offset="0.0500" stop-color="#6f6f6f"/><stop offset="0.1000" stop-color="#8b8b8b"/><stop offset="0.1500" stop-color="#a4a4a4"/><stop offset="0.2000" stop-color="#bbbbbb"/><stop offset="0.2500" stop-color="#cfcfcf"/><stop offset="0.3000" stop-color="#e0e0e0"/><stop offset="0.3500" stop-color="#ededed"/><stop offset="0.4000" stop-color="#f7f7f7"/><stop offset="0.4500" stop-color="#fdfdfd"/><stop offset="0.5000" stop-color="#ffffff"/><stop offset="0.5500" stop-color="#fdfdfd"/><stop offset="0.6000" stop-color="#f7f7f7"/><stop offset="0.6500" stop-color="#ededed"/><stop offset="0.7000" stop-color="#e0e0e0"/><stop offset="0.7500" stop-color="#cfcfcf"/><stop offset="0.8000" stop-color="#bbbbbb"/><stop offset="0.8500" stop-color="#a4a4a4"/><stop offset="0.9000" stop-color="#8b8b8b"/><stop offset="0.9500" stop-color="#6f6f6f"/><stop offset="1.0000" stop-color="#525252"/></linearGradient><linearGradient id="e_iy" gradientUnits="userSpaceOnUse" x1="0" y1="652.2" x2="0" y2="897.3"><stop offset="0.0000" stop-color="#282828"/><stop offset="0.0500" stop-color="#3c3c3c"/><stop offset="0.1000" stop-color="#636363"/><stop offset="0.1500" stop-color="#959595"/><stop offset="0.2000" stop-color="#bcbcbc"/><stop offset="0.2500" stop-color="#d0d0d0"/><stop offset="0.3000" stop-color="#e0e0e0"/><stop offset="0.3500" stop-color="#ededed"/><stop offset="0.4000" stop-color="#f7f7f7"/><stop offset="0.4500" stop-color="#fdfdfd"/><stop offset="0.5000" stop-color="#ffffff"/><stop offset="0.5500" stop-color="#fefefe"/><stop offset="0.6000" stop-color="#f9f9f9"/><stop offset="0.6500" stop-color="#f0f0f0"/><stop offset="0.7000" stop-color="#e4e4e4"/><stop offset="0.7500" stop-color="#d5d5d5"/><stop offset="0.8000" stop-color="#c3c3c3"/><stop offset="0.8500" stop-color="#a2a2a2"/><stop offset="0.9000" stop-color="#717171"/><stop offset="0.9500" stop-color="#454545"/><stop offset="1.0000" stop-color="#2c2c2c"/></linearGradient><filter id="e_fo" x="0" y="0" width="100%" height="100%" color-interpolation-filters="sRGB"><feComponentTransfer><feFuncR type="table" tableValues="0.000 0.000 0.000 0.000 0.000 0.000 0.000 0.000 0.000 0.000 0.000 0.000 0.000 0.000 0.000 0.000 0.000 0.000 0.000 0.000 0.048 0.117 0.186 0.255 0.324 0.393 0.462 0.531 0.600 0.669 0.738 0.807 0.876 0.945 1.000 1.000 1.000 1.000 1.000 1.000 1.000"/><feFuncG type="table" tableValues="0.000 0.000 0.000 0.000 0.000 0.013 0.082 0.151 0.220 0.289 0.358 0.427 0.496 0.565 0.634 0.703 0.772 0.841 0.910 0.979 1.000 1.000 1.000 1.000 1.000 1.000 1.000 1.000 1.000 1.000 1.000 1.000 1.000 1.000 0.986 0.917 0.848 0.779 0.710 0.641 0.572"/><feFuncB type="table" tableValues="0.668 0.737 0.806 0.875 0.944 1.000 1.000 1.000 1.000 1.000 1.000 1.000 1.000 1.000 1.000 1.000 1.000 1.000 1.000 1.000 0.952 0.883 0.814 0.745 0.676 0.607 0.538 0.469 0.400 0.331 0.262 0.193 0.124 0.055 0.000 0.000 0.000 0.000 0.000 0.000 0.000"/></feComponentTransfer></filter><filter id="e_fi" x="0" y="0" width="100%" height="100%" color-interpolation-filters="sRGB"><feComponentTransfer><feFuncR type="table" tableValues="0.000 0.000 0.000 0.000 0.000 0.000 0.000 0.000 0.000 0.000 0.000 0.000 0.000 0.000 0.000 0.035 0.084 0.133 0.182 0.231 0.280 0.329 0.378 0.427 0.476 0.525 0.574 0.623 0.672 0.721 0.770 0.819 0.868 0.917 0.966 1.000 1.000 1.000 1.000 1.000 1.000"/><feFuncG type="table" tableValues="0.300 0.349 0.398 0.447 0.496 0.545 0.594 0.643 0.692 0.741 0.790 0.839 0.888 0.937 0.986 1.000 1.000 1.000 1.000 1.000 1.000 1.000 1.000 1.000 1.000 1.000 1.000 1.000 1.000 1.000 1.000 1.000 1.000 1.000 1.000 0.985 0.936 0.887 0.838 0.789 0.740"/><feFuncB type="table" tableValues="1.000 1.000 1.000 1.000 1.000 1.000 1.000 1.000 1.000 1.000 1.000 1.000 1.000 1.000 1.000 0.965 0.916 0.867 0.818 0.769 0.720 0.671 0.622 0.573 0.524 0.475 0.426 0.377 0.328 0.279 0.230 0.181 0.132 0.083 0.034 0.000 0.000 0.000 0.000 0.000 0.000"/></feComponentTransfer></filter><linearGradient id="e_cb" x1="0" y1="0" x2="0" y2="1"><stop offset="0.000" stop-color="#800000"/><stop offset="0.062" stop-color="#bf0000"/><stop offset="0.125" stop-color="#ff0000"/><stop offset="0.188" stop-color="#ff4000"/><stop offset="0.250" stop-color="#ff8000"/><stop offset="0.312" stop-color="#ffbf00"/><stop offset="0.375" stop-color="#ffff00"/><stop offset="0.438" stop-color="#bfff40"/><stop offset="0.500" stop-color="#80ff80"/><stop offset="0.562" stop-color="#40ffbf"/><stop offset="0.625" stop-color="#00ffff"/><stop offset="0.688" stop-color="#00bfff"/><stop offset="0.750" stop-color="#0080ff"/><stop offset="0.812" stop-color="#0040ff"/><stop offset="0.875" stop-color="#0000ff"/><stop offset="0.938" stop-color="#0000bf"/><stop offset="1.000" stop-color="#000080"/></linearGradient><radialGradient id="e_hot"><stop offset="0" stop-color="#9ff" stop-opacity="0.85"/><stop offset="0.4" stop-color="#4df" stop-opacity="0.45"/><stop offset="1" stop-color="#2cf" stop-opacity="0"/></radialGradient><filter id="e_soft"><feGaussianBlur stdDeviation="0.6"/></filter></defs><g filter="url(#e_fo)"><rect x="828.9" y="602.4" width="317.2" height="343.9" fill="url(#e_ox)"/><rect x="828.9" y="602.4" width="317.2" height="343.9" fill="url(#e_oy)" style="mix-blend-mode:multiply"/></g><circle cx="874.0" cy="652.2" r="13" fill="url(#e_hot)"/><circle cx="1100.7" cy="652.2" r="13" fill="url(#e_hot)"/><circle cx="874.0" cy="897.3" r="13" fill="url(#e_hot)"/><circle cx="1100.7" cy="897.3" r="13" fill="url(#e_hot)"/><g filter="url(#e_fi)"><rect x="874.0" y="652.2" width="226.7" height="245.1" fill="url(#e_ix)"/><rect x="874.0" y="652.2" width="226.7" height="245.1" fill="url(#e_iy)" style="mix-blend-mode:multiply"/></g><rect x="874.0" y="652.2" width="226.7" height="245.1" fill="none" stroke="#1c2a3a" stroke-width="1.4"/><path d="M904.1 652.2 A83.2 169.0 0 0 0 1070.5 652.2" fill="none" stroke="#161e28" stroke-width="1.5"/><path d="M916.6 652.2 A70.8 153.6 0 0 0 1058.2 652.2" fill="none" stroke="#161e28" stroke-width="1.5"/><g stroke="#d8301c" fill="#d8301c" opacity="0.75" filter="url(#e_soft)"><path d="M836.1 660.0 L831.9 660.0" stroke-width="1.3"/><polygon points="832.2,660.0 834.9,658.8 834.9,661.2" stroke="none"/><path d="M857.6 660.0 L853.1 660.0" stroke-width="1.3"/><polygon points="853.4,660.0 856.1,658.7 856.1,661.3" stroke="none"/><path d="M878.3 659.8 L875.1 660.2" stroke-width="1.3"/><polygon points="875.4,660.1 877.7,658.8 877.9,661.0" stroke="none"/><path d="M899.8 659.9 L896.3 660.1" stroke-width="1.3"/><polygon points="896.6,660.1 899.0,658.7 899.2,661.1" stroke="none"/><path d="M921.3 659.9 L917.5 660.1" stroke-width="1.3"/><polygon points="917.8,660.1 920.3,658.7 920.4,661.1" stroke="none"/><path d="M942.8 659.9 L938.7 660.1" stroke-width="1.3"/><polygon points="939.0,660.1 941.6,658.7 941.7,661.2" stroke="none"/><path d="M964.2 660.0 L960.0 660.0" stroke-width="1.3"/><polygon points="960.3,660.0 962.9,658.7 963.0,661.2" stroke="none"/><path d="M985.6 660.0 L981.3 660.0" stroke-width="1.3"/><polygon points="981.6,660.0 984.3,658.7 984.3,661.3" stroke="none"/><path d="M1006.9 660.0 L1002.7 660.0" stroke-width="1.3"/><polygon points="1003.0,660.0 1005.7,658.8 1005.6,661.3" stroke="none"/><path d="M1028.2 660.1 L1024.1 659.9" stroke-width="1.3"/><polygon points="1024.4,659.9 1027.1,658.8 1027.0,661.3" stroke="none"/><path d="M1049.5 660.1 L1045.5 659.9" stroke-width="1.3"/><polygon points="1045.8,659.9 1048.5,658.8 1048.4,661.3" stroke="none"/><path d="M1070.7 660.1 L1067.0 659.9" stroke-width="1.3"/><polygon points="1067.3,659.9 1069.9,658.9 1069.8,661.3" stroke="none"/><path d="M1091.9 660.2 L1088.5 659.8" stroke-width="1.3"/><polygon points="1088.8,659.9 1091.4,659.0 1091.2,661.2" stroke="none"/><path d="M1113.9 660.0 L1109.2 660.0" stroke-width="1.3"/><polygon points="1109.5,660.0 1112.3,658.7 1112.3,661.3" stroke="none"/><path d="M1135.1 660.0 L1130.7 660.0" stroke-width="1.3"/><polygon points="1131.0,660.0 1133.7,658.7 1133.7,661.3" stroke="none"/><path d="M837.0 683.0 L831.0 683.0" stroke-width="1.3"/><polygon points="831.3,683.0 834.5,681.5 834.5,684.5" stroke="none"/><path d="M858.7 683.0 L852.0 683.0" stroke-width="1.3"/><polygon points="852.3,683.0 855.7,681.5 855.7,684.5" stroke="none"/><path d="M878.7 682.6 L874.7 683.4" stroke-width="1.3"/><polygon points="875.0,683.4 877.3,681.6 877.9,684.0" stroke="none"/><path d="M900.5 682.6 L895.6 683.4" stroke-width="1.3"/><polygon points="895.9,683.4 898.5,681.6 899.0,684.2" stroke="none"/><path d="M922.2 682.6 L916.6 683.4" stroke-width="1.3"/><polygon points="916.9,683.3 919.8,681.5 920.1,684.3" stroke="none"/><path d="M943.8 682.7 L937.7 683.3" stroke-width="1.3"/><polygon points="938.0,683.3 941.0,681.5 941.3,684.4" stroke="none"/><path d="M965.4 682.8 L958.8 683.2" stroke-width="1.3"/><polygon points="959.1,683.1 962.4,681.5 962.5,684.5" stroke="none"/><path d="M986.8 683.0 L980.1 683.0" stroke-width="1.3"/><polygon points="980.4,683.0 983.8,681.5 983.8,684.5" stroke="none"/><path d="M1008.1 683.1 L1001.5 682.9" stroke-width="1.3"/><polygon points="1001.8,682.9 1005.2,681.5 1005.1,684.5" stroke="none"/><path d="M1029.3 683.2 L1023.0 682.8" stroke-width="1.3"/><polygon points="1023.3,682.8 1026.7,681.5 1026.4,684.5" stroke="none"/><path d="M1050.4 683.3 L1044.6 682.7" stroke-width="1.3"/><polygon points="1044.9,682.7 1048.2,681.6 1047.8,684.5" stroke="none"/><path d="M1071.4 683.4 L1066.3 682.6" stroke-width="1.3"/><polygon points="1066.6,682.6 1069.7,681.8 1069.3,684.5" stroke="none"/><path d="M1092.3 683.4 L1088.1 682.6" stroke-width="1.3"/><polygon points="1088.3,682.6 1091.3,681.9 1090.8,684.4" stroke="none"/><path d="M1115.0 683.0 L1108.1 683.0" stroke-width="1.3"/><polygon points="1108.4,683.0 1111.8,681.4 1111.8,684.6" stroke="none"/><path d="M1136.0 683.0 L1129.8 683.0" stroke-width="1.3"/><polygon points="1130.1,683.0 1133.3,681.5 1133.3,684.5" stroke="none"/><path d="M837.8 706.0 L830.2 706.0" stroke-width="1.3"/><polygon points="830.5,706.0 834.1,704.3 834.1,707.7" stroke="none"/><path d="M859.5 706.0 L851.2 706.0" stroke-width="1.3"/><polygon points="851.5,706.0 855.3,704.3 855.3,707.7" stroke="none"/><path d="M879.0 705.2 L874.4 706.8" stroke-width="1.3"/><polygon points="874.7,706.7 877.0,704.5 877.8,707.0" stroke="none"/><path d="M901.1 705.2 L895.0 706.8" stroke-width="1.3"/><polygon points="895.3,706.7 898.1,704.5 898.9,707.3" stroke="none"/><path d="M923.0 705.3 L915.8 706.7" stroke-width="1.3"/><polygon points="916.1,706.7 919.3,704.4 919.9,707.6" stroke="none"/><path d="M944.8 705.4 L936.7 706.6" stroke-width="1.3"/><polygon points="937.0,706.5 940.5,704.3 941.0,707.7" stroke="none"/><path d="M966.5 705.7 L957.7 706.3" stroke-width="1.3"/><polygon points="958.0,706.3 961.8,704.2 962.1,707.8" stroke="none"/><path d="M988.0 705.9 L978.9 706.1" stroke-width="1.3"/><polygon points="979.2,706.0 983.2,704.2 983.3,707.8" stroke="none"/><path d="M1009.3 706.2 L1000.3 705.8" stroke-width="1.3"/><polygon points="1000.6,705.8 1004.7,704.2 1004.5,707.8" stroke="none"/><path d="M1030.4 706.5 L1021.9 705.5" stroke-width="1.3"/><polygon points="1022.2,705.6 1026.3,704.2 1025.9,707.7" stroke="none"/><path d="M1051.3 706.7 L1043.7 705.3" stroke-width="1.3"/><polygon points="1044.0,705.4 1047.9,704.4 1047.3,707.7" stroke="none"/><path d="M1072.1 706.8 L1065.6 705.2" stroke-width="1.3"/><polygon points="1065.9,705.3 1069.5,704.6 1068.8,707.6" stroke="none"/><path d="M1092.8 706.8 L1087.6 705.2" stroke-width="1.3"/><polygon points="1087.9,705.3 1091.2,704.9 1090.4,707.5" stroke="none"/><path d="M1115.9 706.0 L1107.2 706.0" stroke-width="1.3"/><polygon points="1107.5,706.0 1111.4,704.2 1111.4,707.8" stroke="none"/><path d="M1136.9 706.0 L1128.9 706.0" stroke-width="1.3"/><polygon points="1129.2,706.0 1133.0,704.3 1133.0,707.7" stroke="none"/><path d="M838.5 729.0 L829.5 729.0" stroke-width="1.3"/><polygon points="829.8,729.0 833.8,727.2 833.8,730.8" stroke="none"/><path d="M860.2 729.0 L850.5 729.0" stroke-width="1.3"/><polygon points="850.8,729.0 855.0,727.1 855.0,730.9" stroke="none"/><path d="M879.1 728.0 L874.3 730.0" stroke-width="1.3"/><polygon points="874.6,729.9 876.7,727.5 877.8,730.0" stroke="none"/><path d="M901.3 727.9 L894.8 730.1" stroke-width="1.3"/><polygon points="895.1,730.0 897.8,727.4 898.8,730.4" stroke="none"/><path d="M923.3 728.0 L915.5 730.0" stroke-width="1.3"/><polygon points="915.8,729.9 919.0,727.3 919.8,730.7" stroke="none"/><path d="M945.3 728.2 L936.2 729.8" stroke-width="1.3"/><polygon points="936.5,729.7 940.2,727.2 940.9,730.8" stroke="none"/><path d="M967.0 728.5 L957.2 729.5" stroke-width="1.3"/><polygon points="957.5,729.4 961.6,727.1 961.9,730.9" stroke="none"/><path d="M988.5 728.9 L978.4 729.1" stroke-width="1.3"/><polygon points="978.7,729.1 983.0,727.1 983.0,730.9" stroke="none"/><path d="M1009.8 729.3 L999.8 728.7" stroke-width="1.3"/><polygon points="1000.1,728.7 1004.5,727.1 1004.3,730.9" stroke="none"/><path d="M1030.8 729.7 L1021.5 728.3" stroke-width="1.3"/><polygon points="1021.8,728.4 1026.1,727.1 1025.6,730.8" stroke="none"/><path d="M1051.7 729.9 L1043.3 728.1" stroke-width="1.3"/><polygon points="1043.6,728.1 1047.8,727.3 1047.0,730.7" stroke="none"/><path d="M1072.3 730.1 L1065.4 727.9" stroke-width="1.3"/><polygon points="1065.6,728.0 1069.5,727.5 1068.6,730.6" stroke="none"/><path d="M1092.9 730.1 L1087.5 727.9" stroke-width="1.3"/><polygon points="1087.8,728.0 1091.2,727.9 1090.1,730.5" stroke="none"/><path d="M1116.6 729.0 L1106.5 729.0" stroke-width="1.3"/><polygon points="1106.8,729.0 1111.1,727.1 1111.1,730.9" stroke="none"/><path d="M1137.5 729.0 L1128.3 729.0" stroke-width="1.3"/><polygon points="1128.6,729.0 1132.7,727.2 1132.7,730.8" stroke="none"/><path d="M838.8 752.0 L829.2 752.0" stroke-width="1.3"/><polygon points="829.5,752.0 833.7,750.1 833.7,753.9" stroke="none"/><path d="M860.6 752.0 L850.1 752.0" stroke-width="1.3"/><polygon points="850.4,752.0 854.7,750.1 854.7,753.9" stroke="none"/><path d="M879.1 750.8 L874.3 753.2" stroke-width="1.3"/><polygon points="874.5,753.1 876.6,750.5 877.9,753.0" stroke="none"/><path d="M901.4 750.7 L894.7 753.3" stroke-width="1.3"/><polygon points="895.0,753.2 897.7,750.4 898.8,753.4" stroke="none"/><path d="M923.5 750.8 L915.3 753.2" stroke-width="1.3"/><polygon points="915.6,753.1 918.8,750.3 919.8,753.7" stroke="none"/><path d="M945.5 751.1 L936.0 752.9" stroke-width="1.3"/><polygon points="936.3,752.9 940.1,750.2 940.8,753.9" stroke="none"/><path d="M967.3 751.4 L956.9 752.6" stroke-width="1.3"/><polygon points="957.2,752.5 961.3,750.1 961.7,754.0" stroke="none"/><path d="M988.8 751.9 L978.1 752.1" stroke-width="1.3"/><polygon points="978.4,752.1 982.7,750.1 982.7,753.9" stroke="none"/><path d="M1010.1 752.4 L999.5 751.6" stroke-width="1.3"/><polygon points="999.8,751.6 1004.2,750.0 1004.0,753.9" stroke="none"/><path d="M1031.1 752.8 L1021.2 751.2" stroke-width="1.3"/><polygon points="1021.5,751.2 1026.1,750.0 1025.4,753.8" stroke="none"/><path d="M1051.9 753.1 L1043.1 750.9" stroke-width="1.3"/><polygon points="1043.4,750.9 1047.8,750.2 1046.9,753.7" stroke="none"/><path d="M1072.5 753.3 L1065.2 750.7" stroke-width="1.3"/><polygon points="1065.5,750.8 1069.5,750.5 1068.4,753.6" stroke="none"/><path d="M1093.0 753.3 L1087.4 750.7" stroke-width="1.3"/><polygon points="1087.7,750.8 1091.2,750.9 1090.0,753.5" stroke="none"/><path d="M1117.0 752.0 L1106.1 752.0" stroke-width="1.3"/><polygon points="1106.4,752.0 1110.7,750.1 1110.7,753.9" stroke="none"/><path d="M1137.9 752.0 L1127.9 752.0" stroke-width="1.3"/><polygon points="1128.2,752.0 1132.5,750.1 1132.5,753.9" stroke="none"/><path d="M839.0 775.0 L829.0 775.0" stroke-width="1.3"/><polygon points="829.3,775.0 833.6,773.1 833.6,776.9" stroke="none"/><path d="M860.8 775.0 L849.9 775.0" stroke-width="1.3"/><polygon points="850.2,775.0 854.5,773.1 854.5,776.9" stroke="none"/><path d="M879.2 773.7 L874.2 776.3" stroke-width="1.3"/><polygon points="874.5,776.2 876.6,773.5 877.9,776.0" stroke="none"/><path d="M901.4 773.6 L894.7 776.4" stroke-width="1.3"/><polygon points="895.0,776.3 897.6,773.4 898.9,776.4" stroke="none"/><path d="M923.6 773.7 L915.2 776.3" stroke-width="1.3"/><polygon points="915.5,776.2 918.8,773.3 919.8,776.7" stroke="none"/><path d="M945.6 774.0 L935.9 776.0" stroke-width="1.3"/><polygon points="936.2,775.9 940.0,773.2 940.8,777.0" stroke="none"/><path d="M967.4 774.4 L956.8 775.6" stroke-width="1.3"/><polygon points="957.1,775.6 961.2,773.2 961.6,777.0" stroke="none"/><path d="M988.9 774.9 L978.0 775.1" stroke-width="1.3"/><polygon points="978.3,775.1 982.5,773.1 982.6,776.9" stroke="none"/><path d="M1010.2 775.4 L999.4 774.6" stroke-width="1.3"/><polygon points="999.7,774.6 1004.1,773.0 1003.8,776.9" stroke="none"/><path d="M1031.2 775.9 L1021.1 774.1" stroke-width="1.3"/><polygon points="1021.4,774.2 1026.0,773.0 1025.3,776.8" stroke="none"/><path d="M1052.0 776.2 L1043.0 773.8" stroke-width="1.3"/><polygon points="1043.3,773.9 1047.8,773.2 1046.8,776.7" stroke="none"/><path d="M1072.5 776.4 L1065.2 773.6" stroke-width="1.3"/><polygon points="1065.5,773.7 1069.5,773.5 1068.3,776.6" stroke="none"/><path d="M1093.0 776.4 L1087.4 773.6" stroke-width="1.3"/><polygon points="1087.7,773.8 1091.2,773.9 1089.9,776.5" stroke="none"/><path d="M1117.2 775.0 L1105.9 775.0" stroke-width="1.3"/><polygon points="1106.2,775.0 1110.5,773.1 1110.5,776.9" stroke="none"/><path d="M1138.0 775.0 L1127.8 775.0" stroke-width="1.3"/><polygon points="1128.1,775.0 1132.4,773.1 1132.4,776.9" stroke="none"/><path d="M838.8 798.0 L829.2 798.0" stroke-width="1.3"/><polygon points="829.5,798.0 833.7,796.1 833.7,799.9" stroke="none"/><path d="M860.6 798.0 L850.1 798.0" stroke-width="1.3"/><polygon points="850.4,798.0 854.7,796.1 854.7,799.9" stroke="none"/><path d="M879.1 796.7 L874.3 799.3" stroke-width="1.3"/><polygon points="874.5,799.1 876.6,796.5 877.9,799.0" stroke="none"/><path d="M901.4 796.7 L894.7 799.3" stroke-width="1.3"/><polygon points="895.0,799.2 897.7,796.4 898.9,799.4" stroke="none"/><path d="M923.5 796.8 L915.3 799.2" stroke-width="1.3"/><polygon points="915.6,799.2 918.8,796.3 919.8,799.7" stroke="none"/><path d="M945.5 797.0 L936.0 799.0" stroke-width="1.3"/><polygon points="936.3,798.9 940.0,796.2 940.8,799.9" stroke="none"/><path d="M967.3 797.4 L956.9 798.6" stroke-width="1.3"/><polygon points="957.2,798.5 961.3,796.1 961.7,800.0" stroke="none"/><path d="M988.8 797.9 L978.1 798.1" stroke-width="1.3"/><polygon points="978.4,798.1 982.6,796.1 982.7,799.9" stroke="none"/><path d="M1010.1 798.4 L999.5 797.6" stroke-width="1.3"/><polygon points="999.8,797.6 1004.2,796.0 1003.9,799.9" stroke="none"/><path d="M1031.1 798.8 L1021.2 797.2" stroke-width="1.3"/><polygon points="1021.5,797.2 1026.0,796.0 1025.4,799.8" stroke="none"/><path d="M1051.9 799.2 L1043.1 796.8" stroke-width="1.3"/><polygon points="1043.4,796.9 1047.8,796.2 1046.8,799.7" stroke="none"/><path d="M1072.5 799.3 L1065.2 796.7" stroke-width="1.3"/><polygon points="1065.5,796.8 1069.5,796.5 1068.4,799.6" stroke="none"/><path d="M1093.0 799.3 L1087.4 796.7" stroke-width="1.3"/><polygon points="1087.7,796.8 1091.2,796.9 1090.0,799.5" stroke="none"/><path d="M1117.0 798.0 L1106.1 798.0" stroke-width="1.3"/><polygon points="1106.4,798.0 1110.7,796.1 1110.7,799.9" stroke="none"/><path d="M1137.9 798.0 L1127.9 798.0" stroke-width="1.3"/><polygon points="1128.2,798.0 1132.5,796.1 1132.5,799.9" stroke="none"/><path d="M838.4 821.0 L829.6 821.0" stroke-width="1.3"/><polygon points="829.9,821.0 833.8,819.2 833.8,822.8" stroke="none"/><path d="M860.2 821.0 L850.5 821.0" stroke-width="1.3"/><polygon points="850.8,821.0 855.0,819.1 855.0,822.9" stroke="none"/><path d="M879.1 819.9 L874.3 822.1" stroke-width="1.3"/><polygon points="874.6,822.0 876.7,819.5 877.9,822.0" stroke="none"/><path d="M901.3 819.8 L894.8 822.2" stroke-width="1.3"/><polygon points="895.1,822.1 897.8,819.4 898.9,822.4" stroke="none"/><path d="M923.4 819.9 L915.4 822.1" stroke-width="1.3"/><polygon points="915.7,822.0 918.9,819.3 919.9,822.7" stroke="none"/><path d="M945.3 820.2 L936.2 821.8" stroke-width="1.3"/><polygon points="936.5,821.8 940.2,819.2 940.9,822.9" stroke="none"/><path d="M967.0 820.5 L957.2 821.5" stroke-width="1.3"/><polygon points="957.5,821.5 961.5,819.1 961.9,823.0" stroke="none"/><path d="M988.5 820.9 L978.4 821.1" stroke-width="1.3"/><polygon points="978.7,821.1 982.9,819.1 983.0,822.9" stroke="none"/><path d="M1009.8 821.3 L999.8 820.7" stroke-width="1.3"/><polygon points="1000.1,820.7 1004.5,819.0 1004.2,822.9" stroke="none"/><path d="M1030.9 821.7 L1021.4 820.3" stroke-width="1.3"/><polygon points="1021.7,820.3 1026.1,819.1 1025.6,822.8" stroke="none"/><path d="M1051.7 822.0 L1043.3 820.0" stroke-width="1.3"/><polygon points="1043.6,820.1 1047.8,819.3 1047.0,822.7" stroke="none"/><path d="M1072.3 822.2 L1065.4 819.8" stroke-width="1.3"/><polygon points="1065.6,819.9 1069.5,819.5 1068.5,822.6" stroke="none"/><path d="M1092.9 822.2 L1087.5 819.8" stroke-width="1.3"/><polygon points="1087.8,820.0 1091.2,819.9 1090.1,822.5" stroke="none"/><path d="M1116.6 821.0 L1106.5 821.0" stroke-width="1.3"/><polygon points="1106.8,821.0 1111.1,819.1 1111.1,822.9" stroke="none"/><path d="M1137.5 821.0 L1128.3 821.0" stroke-width="1.3"/><polygon points="1128.6,821.0 1132.7,819.2 1132.7,822.8" stroke="none"/><path d="M837.8 844.0 L830.2 844.0" stroke-width="1.3"/><polygon points="830.5,844.0 834.1,842.3 834.1,845.7" stroke="none"/><path d="M859.5 844.0 L851.2 844.0" stroke-width="1.3"/><polygon points="851.5,844.0 855.3,842.3 855.3,845.7" stroke="none"/><path d="M879.0 843.1 L874.4 844.9" stroke-width="1.3"/><polygon points="874.7,844.8 876.9,842.5 877.8,845.0" stroke="none"/><path d="M901.1 843.1 L895.0 844.9" stroke-width="1.3"/><polygon points="895.3,844.8 898.0,842.4 898.9,845.3" stroke="none"/><path d="M923.0 843.2 L915.8 844.8" stroke-width="1.3"/><polygon points="916.0,844.8 919.2,842.4 919.9,845.6" stroke="none"/><path d="M944.9 843.4 L936.6 844.6" stroke-width="1.3"/><polygon points="936.9,844.6 940.4,842.3 941.0,845.7" stroke="none"/><path d="M966.6 843.6 L957.6 844.4" stroke-width="1.3"/><polygon points="957.9,844.3 961.8,842.2 962.1,845.8" stroke="none"/><path d="M988.1 843.9 L978.8 844.1" stroke-width="1.3"/><polygon points="979.1,844.1 983.2,842.2 983.2,845.8" stroke="none"/><path d="M1009.3 844.3 L1000.3 843.7" stroke-width="1.3"/><polygon points="1000.6,843.8 1004.7,842.2 1004.5,845.8" stroke="none"/><path d="M1030.4 844.5 L1021.9 843.5" stroke-width="1.3"/><polygon points="1022.2,843.5 1026.3,842.2 1025.8,845.7" stroke="none"/><path d="M1051.3 844.8 L1043.7 843.2" stroke-width="1.3"/><polygon points="1043.9,843.3 1047.9,842.4 1047.2,845.7" stroke="none"/><path d="M1072.1 844.9 L1065.6 843.1" stroke-width="1.3"/><polygon points="1065.9,843.2 1069.6,842.6 1068.7,845.6" stroke="none"/><path d="M1092.8 844.9 L1087.6 843.1" stroke-width="1.3"/><polygon points="1087.9,843.2 1091.2,842.9 1090.3,845.5" stroke="none"/><path d="M1115.9 844.0 L1107.2 844.0" stroke-width="1.3"/><polygon points="1107.5,844.0 1111.5,842.2 1111.5,845.8" stroke="none"/><path d="M1136.8 844.0 L1129.0 844.0" stroke-width="1.3"/><polygon points="1129.3,844.0 1133.0,842.3 1133.0,845.7" stroke="none"/><path d="M837.0 867.0 L831.0 867.0" stroke-width="1.3"/><polygon points="831.3,867.0 834.5,865.5 834.5,868.5" stroke="none"/><path d="M858.6 867.0 L852.1 867.0" stroke-width="1.3"/><polygon points="852.4,867.0 855.7,865.5 855.7,868.5" stroke="none"/><path d="M878.7 866.4 L874.7 867.6" stroke-width="1.3"/><polygon points="875.0,867.5 877.2,865.6 877.9,868.0" stroke="none"/><path d="M900.6 866.5 L895.5 867.5" stroke-width="1.3"/><polygon points="895.8,867.5 898.4,865.5 899.0,868.2" stroke="none"/><path d="M922.3 866.5 L916.5 867.5" stroke-width="1.3"/><polygon points="916.8,867.4 919.7,865.5 920.1,868.4" stroke="none"/><path d="M944.0 866.6 L937.5 867.4" stroke-width="1.3"/><polygon points="937.8,867.3 940.9,865.4 941.3,868.5" stroke="none"/><path d="M965.6 866.8 L958.6 867.2" stroke-width="1.3"/><polygon points="958.9,867.2 962.3,865.4 962.5,868.6" stroke="none"/><path d="M987.0 867.0 L979.9 867.0" stroke-width="1.3"/><polygon points="980.2,867.0 983.7,865.4 983.7,868.6" stroke="none"/><path d="M1008.3 867.1 L1001.3 866.9" stroke-width="1.3"/><polygon points="1001.6,866.9 1005.1,865.4 1005.0,868.6" stroke="none"/><path d="M1029.5 867.3 L1022.8 866.7" stroke-width="1.3"/><polygon points="1023.1,866.7 1026.6,865.5 1026.3,868.6" stroke="none"/><path d="M1050.6 867.4 L1044.4 866.6" stroke-width="1.3"/><polygon points="1044.7,866.6 1048.1,865.6 1047.7,868.5" stroke="none"/><path d="M1071.5 867.5 L1066.2 866.5" stroke-width="1.3"/><polygon points="1066.5,866.5 1069.7,865.7 1069.2,868.5" stroke="none"/><path d="M1092.4 867.6 L1088.0 866.4" stroke-width="1.3"/><polygon points="1088.3,866.5 1091.3,865.9 1090.7,868.4" stroke="none"/><path d="M1114.9 867.0 L1108.2 867.0" stroke-width="1.3"/><polygon points="1108.5,867.0 1111.9,865.4 1111.9,868.6" stroke="none"/><path d="M1136.0 867.0 L1129.8 867.0" stroke-width="1.3"/><polygon points="1130.1,867.0 1133.3,865.5 1133.3,868.5" stroke="none"/><path d="M836.1 890.0 L831.9 890.0" stroke-width="1.3"/><polygon points="832.2,890.0 834.9,888.8 834.9,891.2" stroke="none"/><path d="M857.6 890.0 L853.1 890.0" stroke-width="1.3"/><polygon points="853.4,890.0 856.2,888.7 856.2,891.3" stroke="none"/><path d="M878.3 889.8 L875.1 890.2" stroke-width="1.3"/><polygon points="875.4,890.2 877.6,888.7 877.9,891.0" stroke="none"/><path d="M899.9 889.8 L896.2 890.2" stroke-width="1.3"/><polygon points="896.5,890.2 898.9,888.7 899.2,891.1" stroke="none"/><path d="M921.4 889.8 L917.4 890.2" stroke-width="1.3"/><polygon points="917.7,890.2 920.2,888.7 920.4,891.1" stroke="none"/><path d="M942.9 889.9 L938.6 890.1" stroke-width="1.3"/><polygon points="938.9,890.1 941.5,888.7 941.7,891.2" stroke="none"/><path d="M964.3 889.9 L959.9 890.1" stroke-width="1.3"/><polygon points="960.2,890.1 962.9,888.7 963.0,891.2" stroke="none"/><path d="M985.7 890.0 L981.2 890.0" stroke-width="1.3"/><polygon points="981.5,890.0 984.3,888.7 984.3,891.3" stroke="none"/><path d="M1007.0 890.1 L1002.6 889.9" stroke-width="1.3"/><polygon points="1002.9,890.0 1005.6,888.7 1005.6,891.3" stroke="none"/><path d="M1028.3 890.1 L1024.0 889.9" stroke-width="1.3"/><polygon points="1024.3,889.9 1027.1,888.8 1026.9,891.3" stroke="none"/><path d="M1049.5 890.2 L1045.5 889.8" stroke-width="1.3"/><polygon points="1045.8,889.9 1048.5,888.8 1048.3,891.3" stroke="none"/><path d="M1070.7 890.2 L1067.0 889.8" stroke-width="1.3"/><polygon points="1067.3,889.8 1069.9,888.9 1069.7,891.3" stroke="none"/><path d="M1091.9 890.2 L1088.5 889.8" stroke-width="1.3"/><polygon points="1088.8,889.8 1091.4,889.0 1091.1,891.3" stroke="none"/><path d="M1113.9 890.0 L1109.2 890.0" stroke-width="1.3"/><polygon points="1109.5,890.0 1112.3,888.7 1112.3,891.3" stroke="none"/><path d="M1135.0 890.0 L1130.8 890.0" stroke-width="1.3"/><polygon points="1131.1,890.0 1133.8,888.7 1133.8,891.3" stroke="none"/></g><rect x="748.0" y="577.5" width="479.0" height="394.0" fill="none" stroke="#555" stroke-width="1.2"/><path d="M751.0 577.5 v5 M751.0 971.5 v-5 M798.4 577.5 v5 M798.4 971.5 v-5 M845.8 577.5 v5 M845.8 971.5 v-5 M893.2 577.5 v5 M893.2 971.5 v-5 M940.6 577.5 v5 M940.6 971.5 v-5 M988.0 577.5 v5 M988.0 971.5 v-5 M1035.4 577.5 v5 M1035.4 971.5 v-5 M1082.8 577.5 v5 M1082.8 971.5 v-5 M1130.2 577.5 v5 M1130.2 971.5 v-5 M1177.6 577.5 v5 M1177.6 971.5 v-5 M1225.0 577.5 v5 M1225.0 971.5 v-5 M748.0 590.2 h5 M1227.0 590.2 h-5 M748.0 620.8 h5 M1227.0 620.8 h-5 M748.0 651.5 h5 M1227.0 651.5 h-5 M748.0 682.2 h5 M1227.0 682.2 h-5 M748.0 712.8 h5 M1227.0 712.8 h-5 M748.0 743.5 h5 M1227.0 743.5 h-5 M748.0 774.1 h5 M1227.0 774.1 h-5 M748.0 804.8 h5 M1227.0 804.8 h-5 M748.0 835.5 h5 M1227.0 835.5 h-5 M748.0 866.1 h5 M1227.0 866.1 h-5 M748.0 896.8 h5 M1227.0 896.8 h-5 M748.0 927.4 h5 M1227.0 927.4 h-5 M748.0 958.1 h5 M1227.0 958.1 h-5 " stroke="#444" stroke-width="1.1" fill="none"/><g font-size="24" fill="#111"><text x="694.0" y="623.4">0.1</text><text x="704.5" y="655.7">0</text><text x="690.0" y="690.3">-0.1</text><text x="690.0" y="724.2">-0.2</text><text x="690.0" y="757.1">-0.3</text><text x="690.0" y="791.2">-0.4</text><text x="690.0" y="821.2">-0.5</text><text x="690.0" y="855.3">-0.6</text><text x="690.0" y="883.5">-0.7</text><text x="690.0" y="915.3">-0.8</text><text x="691.0" y="954.0">-0.9</text><text x="750.0" y="999.4" text-anchor="middle">-1</text><text x="796.2" y="999.4" text-anchor="middle">-0.8</text><text x="845.6" y="999.4" text-anchor="middle">-0.6</text><text x="895.3" y="999.4" text-anchor="middle">-0.4</text><text x="944.6" y="999.4" text-anchor="middle">-0.2</text><text x="990.8" y="999.4" text-anchor="middle">0</text><text x="1036.0" y="999.4" text-anchor="middle">0.2</text><text x="1090.6" y="999.4" text-anchor="middle">0.4</text><text x="1137.4" y="999.4" text-anchor="middle">0.6</text><text x="1184.2" y="999.4" text-anchor="middle">0.8</text><text x="1224" y="999.4">μm</text></g><rect x="1245" y="613.9" width="14.2" height="351" fill="url(#e_cb)" stroke="#555" stroke-width="0.8"/><path d="M1245 624.0 h3 M1259.2 624.0 h-3 M1245 681.0 h3 M1259.2 681.0 h-3 M1245 738.0 h3 M1259.2 738.0 h-3 M1245 795.0 h3 M1259.2 795.0 h-3 M1245 852.0 h3 M1259.2 852.0 h-3 M1245 909.0 h3 M1259.2 909.0 h-3 M1245 966.0 h3 M1259.2 966.0 h-3 " stroke="#333" stroke-width="0.9"/><g font-size="24" fill="#111"><text x="1268.0" y="632.6">16</text><text x="1268.0" y="690.0">14</text><text x="1268.0" y="749.6">12</text><text x="1268.0" y="805.6">10</text><text x="1274.5" y="863.6">8</text><text x="1274.5" y="917.4">6</text><text x="1274.5" y="974.6">4</text></g></g>
<!-- panel f -->
<g id="pf"><rect x="1429.0" y="571.0" width="496.4" height="395.6" fill="none" stroke="#000" stroke-width="2.3"/><path d="M1429.0 571.0 h-7 M1429.0 595.7 h-4 M1429.0 620.4 h-7 M1429.0 645.1 h-4 M1429.0 669.8 h-7 M1429.0 694.5 h-4 M1429.0 719.3 h-7 M1429.0 744.0 h-4 M1429.0 768.7 h-7 M1429.0 793.4 h-4 M1429.0 818.1 h-7 M1429.0 842.8 h-4 M1429.0 867.5 h-7 M1429.0 892.2 h-4 M1429.0 916.9 h-7 M1429.0 941.6 h-4 M1429.0 966.4 h-7 M1429.0 966.6 v7 M1429.0 571.0 v7 M1462.1 966.6 v4 M1462.1 571.0 v4 M1495.2 966.6 v7 M1495.2 571.0 v7 M1528.3 966.6 v4 M1528.3 571.0 v4 M1561.4 966.6 v7 M1561.4 571.0 v7 M1594.5 966.6 v4 M1594.5 571.0 v4 M1627.6 966.6 v7 M1627.6 571.0 v7 M1660.7 966.6 v4 M1660.7 571.0 v4 M1693.8 966.6 v7 M1693.8 571.0 v7 M1726.9 966.6 v4 M1726.9 571.0 v4 M1760.0 966.6 v7 M1760.0 571.0 v7 M1793.1 966.6 v4 M1793.1 571.0 v4 M1826.2 966.6 v7 M1826.2 571.0 v7 M1859.3 966.6 v4 M1859.3 571.0 v4 M1892.4 966.6 v7 M1892.4 571.0 v7 M1925.5 966.6 v4 M1925.5 571.0 v4 M1925.4 571.2 h7 M1925.4 594.5 h4 M1925.4 617.8 h7 M1925.4 641.1 h4 M1925.4 664.4 h7 M1925.4 687.7 h4 M1925.4 711.0 h7 M1925.4 734.3 h4 M1925.4 757.6 h7 M1925.4 780.9 h4 M1925.4 804.2 h7 M1925.4 827.5 h4 M1925.4 850.8 h7 M1925.4 874.1 h4 M1925.4 897.4 h7 M1925.4 920.7 h4 M1925.4 944.0 h7 " stroke="#000" stroke-width="1.8" fill="none"/><polyline points="1482.5,887.2 1502.0,887.2 1521.5,886.2 1541.0,884.1 1560.5,881.0 1580.0,878.4 1599.3,885.1 1618.8,892.4 1638.0,899.7 1657.3,905.4 1677.3,910.6 1697.0,915.3 1716.7,918.9 1736.2,922.6 1755.4,927.2 1776.7,930.9 1793.0,934.0 1813.0,938.1 1832.7,942.3 1852.7,945.4" fill="none" stroke="#38d8d8" stroke-width="2"/><polygon points="1482.5,880.7 1488.3,891.0 1476.7,891.0" fill="#22e6e6"/><polygon points="1502.0,880.7 1507.8,891.0 1496.2,891.0" fill="#22e6e6"/><polygon points="1521.5,879.7 1527.3,890.0 1515.7,890.0" fill="#22e6e6"/><polygon points="1541.0,877.6 1546.8,887.9 1535.2,887.9" fill="#22e6e6"/><polygon points="1560.5,874.5 1566.3,884.8 1554.7,884.8" fill="#22e6e6"/><polygon points="1580.0,871.9 1585.8,882.2 1574.2,882.2" fill="#22e6e6"/><polygon points="1599.3,878.6 1605.1,888.9 1593.5,888.9" fill="#22e6e6"/><polygon points="1618.8,885.9 1624.6,896.2 1613.0,896.2" fill="#22e6e6"/><polygon points="1638.0,893.2 1643.8,903.5 1632.2,903.5" fill="#22e6e6"/><polygon points="1657.3,898.9 1663.1,909.2 1651.5,909.2" fill="#22e6e6"/><polygon points="1677.3,904.1 1683.1,914.4 1671.5,914.4" fill="#22e6e6"/><polygon points="1697.0,908.8 1702.8,919.1 1691.2,919.1" fill="#22e6e6"/><polygon points="1716.7,912.4 1722.5,922.7 1710.9,922.7" fill="#22e6e6"/><polygon points="1736.2,916.1 1742.0,926.4 1730.4,926.4" fill="#22e6e6"/><polygon points="1755.4,920.7 1761.2,931.0 1749.6,931.0" fill="#22e6e6"/><polygon points="1776.7,924.4 1782.5,934.7 1770.9,934.7" fill="#22e6e6"/><polygon points="1793.0,927.5 1798.8,937.8 1787.2,937.8" fill="#22e6e6"/><polygon points="1813.0,931.6 1818.8,941.9 1807.2,941.9" fill="#22e6e6"/><polygon points="1832.7,935.8 1838.5,946.1 1826.9,946.1" fill="#22e6e6"/><polygon points="1852.7,938.9 1858.5,949.2 1846.9,949.2" fill="#22e6e6"/><polyline points="1482.5,607.6 1502.0,607.6 1521.5,606.0 1541.0,604.0 1560.5,600.3 1580.0,597.7 1599.3,605.5 1618.8,613.3 1638.0,620.1 1657.3,625.3 1677.3,630.5 1697.0,635.7 1716.7,639.3 1736.2,643.5 1755.4,647.1 1776.7,651.2 1793.0,654.9 1813.0,658.5 1832.7,662.2 1852.7,665.8" fill="none" stroke="#c41414" stroke-width="2"/><polygon points="1482.5,601.3 1488.1,607.6 1482.5,613.9 1476.9,607.6" fill="#e81414"/><polygon points="1502.0,601.3 1507.6,607.6 1502.0,613.9 1496.4,607.6" fill="#e81414"/><polygon points="1521.5,599.7 1527.1,606.0 1521.5,612.3 1515.9,606.0" fill="#e81414"/><polygon points="1541.0,597.7 1546.6,604.0 1541.0,610.3 1535.4,604.0" fill="#e81414"/><polygon points="1560.5,594.0 1566.1,600.3 1560.5,606.6 1554.9,600.3" fill="#e81414"/><polygon points="1580.0,591.4 1585.6,597.7 1580.0,604.0 1574.4,597.7" fill="#e81414"/><polygon points="1599.3,599.2 1604.9,605.5 1599.3,611.8 1593.7,605.5" fill="#e81414"/><polygon points="1618.8,607.0 1624.4,613.3 1618.8,619.6 1613.2,613.3" fill="#e81414"/><polygon points="1638.0,613.8 1643.6,620.1 1638.0,626.4 1632.4,620.1" fill="#e81414"/><polygon points="1657.3,619.0 1662.9,625.3 1657.3,631.6 1651.7,625.3" fill="#e81414"/><polygon points="1677.3,624.2 1682.9,630.5 1677.3,636.8 1671.7,630.5" fill="#e81414"/><polygon points="1697.0,629.4 1702.6,635.7 1697.0,642.0 1691.4,635.7" fill="#e81414"/><polygon points="1716.7,633.0 1722.3,639.3 1716.7,645.6 1711.1,639.3" fill="#e81414"/><polygon points="1736.2,637.2 1741.8,643.5 1736.2,649.8 1730.6,643.5" fill="#e81414"/><polygon points="1755.4,640.8 1761.0,647.1 1755.4,653.4 1749.8,647.1" fill="#e81414"/><polygon points="1776.7,644.9 1782.3,651.2 1776.7,657.5 1771.1,651.2" fill="#e81414"/><polygon points="1793.0,648.6 1798.6,654.9 1793.0,661.2 1787.4,654.9" fill="#e81414"/><polygon points="1813.0,652.2 1818.6,658.5 1813.0,664.8 1807.4,658.5" fill="#e81414"/><polygon points="1832.7,655.9 1838.3,662.2 1832.7,668.5 1827.1,662.2" fill="#e81414"/><polygon points="1852.7,659.5 1858.3,665.8 1852.7,672.1 1847.1,665.8" fill="#e81414"/><polyline points="1482.5,602.9 1502.0,607.6 1521.5,616.9 1541.0,633.1 1560.5,668.9 1580.0,768.7 1599.3,858.6 1618.8,891.4 1638.0,905.9 1657.3,913.7 1677.3,918.9 1697.0,922.0 1716.7,924.1 1736.2,926.2 1755.4,927.8 1776.7,929.3 1793.0,929.8 1813.0,930.9 1832.7,931.4 1852.7,931.9" fill="none" stroke="#8a2f9e" stroke-width="1.8" stroke-dasharray="2 3.2"/><rect x="1479.0" y="599.4" width="7" height="7" fill="#fff" fill-opacity="0.75" stroke="#b03fc0" stroke-width="1.5"/><rect x="1498.5" y="604.1" width="7" height="7" fill="#fff" fill-opacity="0.75" stroke="#b03fc0" stroke-width="1.5"/><rect x="1518.0" y="613.4" width="7" height="7" fill="#fff" fill-opacity="0.75" stroke="#b03fc0" stroke-width="1.5"/><rect x="1537.5" y="629.6" width="7" height="7" fill="#fff" fill-opacity="0.75" stroke="#b03fc0" stroke-width="1.5"/><rect x="1557.0" y="665.4" width="7" height="7" fill="#fff" fill-opacity="0.75" stroke="#b03fc0" stroke-width="1.5"/><rect x="1576.5" y="765.2" width="7" height="7" fill="#fff" fill-opacity="0.75" stroke="#b03fc0" stroke-width="1.5"/><rect x="1595.8" y="855.1" width="7" height="7" fill="#fff" fill-opacity="0.75" stroke="#b03fc0" stroke-width="1.5"/><rect x="1615.3" y="887.9" width="7" height="7" fill="#fff" fill-opacity="0.75" stroke="#b03fc0" stroke-width="1.5"/><rect x="1634.5" y="902.4" width="7" height="7" fill="#fff" fill-opacity="0.75" stroke="#b03fc0" stroke-width="1.5"/><rect x="1653.8" y="910.2" width="7" height="7" fill="#fff" fill-opacity="0.75" stroke="#b03fc0" stroke-width="1.5"/><rect x="1673.8" y="915.4" width="7" height="7" fill="#fff" fill-opacity="0.75" stroke="#b03fc0" stroke-width="1.5"/><rect x="1693.5" y="918.5" width="7" height="7" fill="#fff" fill-opacity="0.75" stroke="#b03fc0" stroke-width="1.5"/><rect x="1713.2" y="920.6" width="7" height="7" fill="#fff" fill-opacity="0.75" stroke="#b03fc0" stroke-width="1.5"/><rect x="1732.7" y="922.7" width="7" height="7" fill="#fff" fill-opacity="0.75" stroke="#b03fc0" stroke-width="1.5"/><rect x="1751.9" y="924.3" width="7" height="7" fill="#fff" fill-opacity="0.75" stroke="#b03fc0" stroke-width="1.5"/><rect x="1773.2" y="925.8" width="7" height="7" fill="#fff" fill-opacity="0.75" stroke="#b03fc0" stroke-width="1.5"/><rect x="1789.5" y="926.3" width="7" height="7" fill="#fff" fill-opacity="0.75" stroke="#b03fc0" stroke-width="1.5"/><rect x="1809.5" y="927.4" width="7" height="7" fill="#fff" fill-opacity="0.75" stroke="#b03fc0" stroke-width="1.5"/><rect x="1829.2" y="927.9" width="7" height="7" fill="#fff" fill-opacity="0.75" stroke="#b03fc0" stroke-width="1.5"/><rect x="1849.2" y="928.4" width="7" height="7" fill="#fff" fill-opacity="0.75" stroke="#b03fc0" stroke-width="1.5"/><g font-size="24.8" fill="#111"><text x="1413" y="593.9" text-anchor="end">1.755</text><text x="1413" y="634.9" text-anchor="end">1.750</text><text x="1413" y="684.9" text-anchor="end">1.745</text><text x="1413" y="734.9" text-anchor="end">1.740</text><text x="1413" y="783.9" text-anchor="end">1.735</text><text x="1413" y="837.9" text-anchor="end">1.730</text><text x="1413" y="883.9" text-anchor="end">1.725</text><text x="1413" y="936.9" text-anchor="end">1.720</text><text x="1413" y="974.4" text-anchor="end">1.715</text><text x="1426.0" y="997.5" text-anchor="middle">0</text><text x="1494.0" y="997.5" text-anchor="middle">2</text><text x="1560.0" y="997.5" text-anchor="middle">4</text><text x="1627.0" y="997.5" text-anchor="middle">6</text><text x="1694.6" y="997.5" text-anchor="middle">8</text><text x="1756.0" y="997.5" text-anchor="middle">10</text><text x="1829.3" y="997.5" text-anchor="middle">12</text><text x="1890.7" y="997.5" text-anchor="middle">14</text><text x="1914" y="997.5">×E-20</text><text x="1921" y="551.5">×E-4</text><text x="1932.8" y="587.9">40</text><text x="1932.8" y="626.9">35</text><text x="1932.8" y="669.4">30</text><text x="1932.8" y="721.4">25</text><text x="1932.8" y="768.9">20</text><text x="1932.8" y="812.7">15</text><text x="1932.8" y="856.6">10</text><text x="1939.0" y="907.9">5</text><text x="1939.0" y="953.1">0</text></g><text transform="translate(1339.5 749) rotate(-90)" text-anchor="middle" font-size="28" fill="#111" stroke="#111" stroke-width="0.3">N (real)</text><text transform="translate(1992 744) rotate(-90)" text-anchor="middle" font-size="28" fill="#111" stroke="#111" stroke-width="0.3">N (Imag)</text><text x="1668" y="1030.5" font-size="28" fill="#111" stroke="#111" stroke-width="0.5">μ<tspan font-size="18" dy="5" font-weight="700">c</tspan><tspan dy="-5">(J)</tspan></text><rect x="1770.5" y="812" width="139.5" height="7.6" fill="#000"/><rect x="1762.8" y="722" width="146.8" height="90" fill="#fff" stroke="#000" stroke-width="2"/><path d="M1791 722 v-3 M1839 722 v-2 M1886 722 v-3" stroke="#000" stroke-width="1.6"/><path d="M1771 738 H1810" stroke="#c41414" stroke-width="2"/><polygon points="1791,731 1798,738 1791,745 1784,738" fill="#e81414"/><path d="M1771 757 H1810" stroke="#38d8d8" stroke-width="2"/><polygon points="1791,749.5 1798,761 1784,761" fill="#22e6e6"/><path d="M1771 777.5 H1810" stroke="#223" stroke-width="1.8" stroke-dasharray="2 3.5"/><rect x="1786" y="772.5" width="10" height="10" fill="#1212e0"/><path d="M1771 798.5 H1810" stroke="#8a2f9e" stroke-width="1.8" stroke-dasharray="2 3.5"/><rect x="1786.5" y="794" width="9" height="9" fill="#fff" stroke="#b03fc0" stroke-width="1.6"/><g font-size="15.5" fill="#111" stroke="#111" stroke-width="0.5" letter-spacing="0.5"><text x="1824" y="743.0">real (TM)</text><text x="1824" y="762.0">real (TE)</text><text x="1824" y="782.5">imag (TM)</text><text x="1824" y="803.5">imag (TE)</text></g></g></svg>
</body></html>
